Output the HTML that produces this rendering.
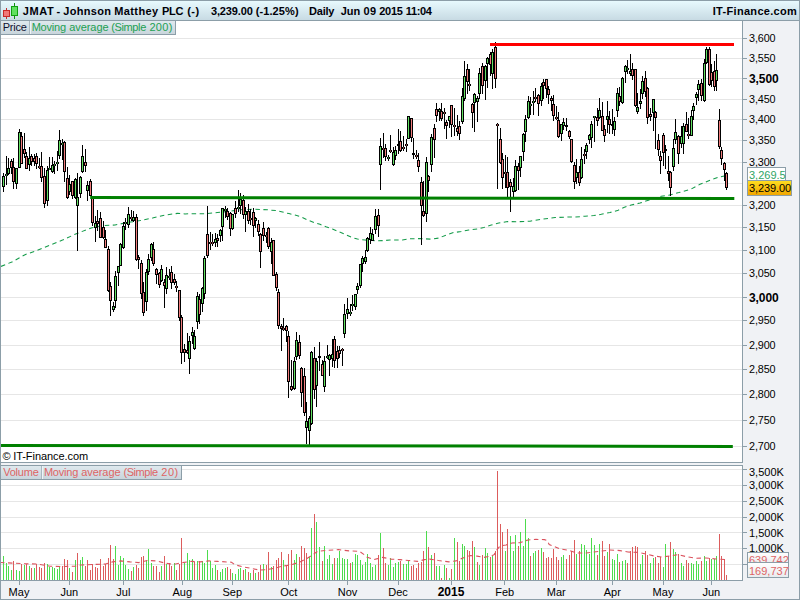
<!DOCTYPE html>
<html><head><meta charset="utf-8"><title>JMAT - Johnson Matthey PLC</title>
<style>html,body{margin:0;padding:0;background:#fff;overflow:hidden}svg{display:block}</style></head>
<body>
<svg width="800" height="600" viewBox="0 0 800 600" font-family='"Liberation Sans", Arial, sans-serif' font-size="11">
<defs>
<linearGradient id="hd" x1="0" y1="0" x2="0" y2="1"><stop offset="0" stop-color="#e9fbff"/><stop offset="1" stop-color="#c6d9e2"/></linearGradient>
<linearGradient id="tab" x1="0" y1="0" x2="0" y2="1"><stop offset="0" stop-color="#dfe9ee"/><stop offset="1" stop-color="#c9d5dc"/></linearGradient>
<linearGradient id="yl" x1="0" y1="0" x2="0" y2="1"><stop offset="0" stop-color="#ffdf20"/><stop offset="1" stop-color="#f0a400"/></linearGradient>
<linearGradient id="wb" x1="0" y1="0" x2="0" y2="1"><stop offset="0" stop-color="#ffffff"/><stop offset="1" stop-color="#e8ebee"/></linearGradient>
<clipPath id="cp"><rect x="1" y="21" width="741" height="441"/></clipPath>
<clipPath id="cv"><rect x="1" y="466" width="741" height="114"/></clipPath>
<clipPath id="cb1"><rect x="748" y="553" width="40" height="10"/></clipPath>
</defs>
<rect x="0" y="0" width="800" height="600" fill="#f0f2f5"/>
<rect x="0" y="0" width="800" height="21" fill="url(#hd)"/>
<rect x="0" y="0" width="800" height="1" fill="#8c9ea8"/>
<rect x="0" y="20" width="800" height="1" fill="#8c9ea8"/>
<rect x="1" y="21" width="741" height="441" fill="#fff"/>
<rect x="1" y="466" width="741" height="114" fill="#fff"/>
<g shape-rendering="crispEdges">
<rect x="1" y="446" width="741" height="1" fill="#e6e6e6"/>
<rect x="1" y="420" width="741" height="1" fill="#e6e6e6"/>
<rect x="1" y="394" width="741" height="1" fill="#e6e6e6"/>
<rect x="1" y="369" width="741" height="1" fill="#e6e6e6"/>
<rect x="1" y="345" width="741" height="1" fill="#e6e6e6"/>
<rect x="1" y="320" width="741" height="1" fill="#e6e6e6"/>
<rect x="1" y="297" width="741" height="1" fill="#e6e6e6"/>
<rect x="1" y="273" width="741" height="1" fill="#e6e6e6"/>
<rect x="1" y="250" width="741" height="1" fill="#e6e6e6"/>
<rect x="1" y="227" width="741" height="1" fill="#e6e6e6"/>
<rect x="1" y="205" width="741" height="1" fill="#e6e6e6"/>
<rect x="1" y="183" width="741" height="1" fill="#e6e6e6"/>
<rect x="1" y="162" width="741" height="1" fill="#e6e6e6"/>
<rect x="1" y="140" width="741" height="1" fill="#e6e6e6"/>
<rect x="1" y="119" width="741" height="1" fill="#e6e6e6"/>
<rect x="1" y="99" width="741" height="1" fill="#e6e6e6"/>
<rect x="1" y="78" width="741" height="1" fill="#e6e6e6"/>
<rect x="1" y="58" width="741" height="1" fill="#e6e6e6"/>
<rect x="1" y="38" width="741" height="1" fill="#e6e6e6"/>
<rect x="1" y="564" width="741" height="1" fill="#e6e6e6"/>
<rect x="1" y="548" width="741" height="1" fill="#e6e6e6"/>
<rect x="1" y="532" width="741" height="1" fill="#e6e6e6"/>
<rect x="1" y="517" width="741" height="1" fill="#e6e6e6"/>
<rect x="1" y="501" width="741" height="1" fill="#e6e6e6"/>
<rect x="1" y="485" width="741" height="1" fill="#e6e6e6"/>
<rect x="1" y="469" width="741" height="1" fill="#e6e6e6"/>
</g>
<polyline clip-path="url(#cp)" points="1.0,266.4 12.5,261.7 25.0,254.7 37.5,250.3 50.0,245.2 62.5,240.1 75.0,234.3 87.5,229.3 92.0,227.8 102.5,225.6 115.0,225.0 127.5,222.5 140.0,220.6 152.5,218.1 165.0,215.0 177.5,213.4 185.0,213.9 192.5,213.7 205.0,213.7 217.5,212.5 230.0,211.2 242.5,209.5 255.0,209.3 267.5,209.8 276.0,210.6 282.5,212.1 289.0,213.6 295.0,215.0 301.0,216.8 307.5,220.0 314.0,222.5 320.0,224.3 326.0,226.8 332.5,229.1 339.0,231.8 345.0,234.3 351.0,237.1 357.5,239.1 365.0,240.0 377.5,240.8 384.0,240.6 390.0,240.0 402.5,240.0 409.0,238.8 421.0,238.6 430.0,239.1 438.8,238.1 446.2,235.0 453.8,232.5 461.2,231.6 468.8,230.0 477.5,229.0 483.8,227.5 491.2,225.0 498.8,223.1 507.5,221.6 517.5,221.7 530.0,221.2 542.5,219.1 555.0,217.6 567.5,217.0 575.0,217.1 585.0,216.2 593.8,215.6 601.2,214.3 610.0,212.5 617.5,210.6 623.8,207.5 631.2,205.0 640.0,203.1 647.5,200.6 655.0,198.1 661.2,196.2 668.8,195.2 678.8,192.6 691.0,189.1 700.0,184.3 710.0,180.3 719.0,177.1 726.5,175.6" fill="none" stroke="#149b49" stroke-width="1.05" stroke-dasharray="4.5 3.5"/>
<g clip-path="url(#cp)" shape-rendering="crispEdges">
<rect x="3" y="173" width="1" height="19" fill="#000"/>
<rect x="2" y="176" width="3" height="11" fill="#000"/>
<rect x="3" y="177" width="1" height="9" fill="#62e062"/>
<rect x="6" y="156" width="1" height="29" fill="#000"/>
<rect x="5" y="174" width="3" height="2" fill="#000"/>
<rect x="6" y="174" width="1" height="2" fill="#62e062" fill-opacity="0.55"/>
<rect x="8" y="158" width="1" height="17" fill="#000"/>
<rect x="7" y="168" width="3" height="6" fill="#000"/>
<rect x="8" y="169" width="1" height="4" fill="#62e062"/>
<rect x="11" y="159" width="1" height="15" fill="#000"/>
<rect x="10" y="161" width="3" height="7" fill="#000"/>
<rect x="11" y="162" width="1" height="5" fill="#f07c7c"/>
<rect x="13" y="158" width="1" height="31" fill="#000"/>
<rect x="12" y="167" width="3" height="15" fill="#000"/>
<rect x="13" y="168" width="1" height="13" fill="#f07c7c"/>
<rect x="16" y="168" width="1" height="21" fill="#000"/>
<rect x="15" y="168" width="3" height="16" fill="#000"/>
<rect x="16" y="169" width="1" height="14" fill="#62e062"/>
<rect x="19" y="129" width="1" height="39" fill="#000"/>
<rect x="18" y="132" width="3" height="36" fill="#000"/>
<rect x="19" y="133" width="1" height="34" fill="#62e062"/>
<rect x="21" y="132" width="1" height="32" fill="#000"/>
<rect x="20" y="136" width="3" height="28" fill="#000"/>
<rect x="21" y="137" width="1" height="26" fill="#f07c7c"/>
<rect x="24" y="133" width="1" height="25" fill="#000"/>
<rect x="23" y="149" width="3" height="5" fill="#000"/>
<rect x="24" y="150" width="1" height="3" fill="#f07c7c"/>
<rect x="26" y="152" width="1" height="17" fill="#000"/>
<rect x="25" y="156" width="3" height="13" fill="#000"/>
<rect x="26" y="157" width="1" height="11" fill="#f07c7c"/>
<rect x="29" y="147" width="1" height="24" fill="#000"/>
<rect x="28" y="158" width="3" height="7" fill="#000"/>
<rect x="29" y="159" width="1" height="5" fill="#62e062"/>
<rect x="31" y="154" width="1" height="12" fill="#000"/>
<rect x="30" y="156" width="3" height="6" fill="#000"/>
<rect x="31" y="157" width="1" height="4" fill="#f07c7c"/>
<rect x="34" y="154" width="1" height="12" fill="#000"/>
<rect x="33" y="158" width="3" height="4" fill="#000"/>
<rect x="34" y="159" width="1" height="2" fill="#f07c7c"/>
<rect x="36" y="153" width="1" height="16" fill="#000"/>
<rect x="35" y="156" width="3" height="8" fill="#000"/>
<rect x="36" y="157" width="1" height="6" fill="#f07c7c"/>
<rect x="39" y="158" width="1" height="11" fill="#000"/>
<rect x="38" y="166" width="3" height="2" fill="#000"/>
<rect x="39" y="166" width="1" height="2" fill="#f07c7c" fill-opacity="0.55"/>
<rect x="41" y="152" width="1" height="30" fill="#000"/>
<rect x="40" y="166" width="3" height="12" fill="#000"/>
<rect x="41" y="167" width="1" height="10" fill="#f07c7c"/>
<rect x="44" y="168" width="1" height="40" fill="#000"/>
<rect x="43" y="176" width="3" height="28" fill="#000"/>
<rect x="44" y="177" width="1" height="26" fill="#f07c7c"/>
<rect x="47" y="166" width="1" height="40" fill="#000"/>
<rect x="46" y="170" width="3" height="31" fill="#000"/>
<rect x="47" y="171" width="1" height="29" fill="#62e062"/>
<rect x="49" y="157" width="1" height="13" fill="#000"/>
<rect x="48" y="168" width="3" height="2" fill="#000"/>
<rect x="49" y="168" width="1" height="2" fill="#62e062" fill-opacity="0.55"/>
<rect x="52" y="157" width="1" height="16" fill="#000"/>
<rect x="51" y="165" width="3" height="7" fill="#000"/>
<rect x="52" y="166" width="1" height="5" fill="#62e062"/>
<rect x="54" y="161" width="1" height="13" fill="#000"/>
<rect x="53" y="164" width="3" height="2" fill="#000"/>
<rect x="54" y="164" width="1" height="2" fill="#62e062" fill-opacity="0.55"/>
<rect x="57" y="151" width="1" height="20" fill="#000"/>
<rect x="56" y="162" width="3" height="2" fill="#000"/>
<rect x="57" y="162" width="1" height="2" fill="#62e062" fill-opacity="0.55"/>
<rect x="59" y="130" width="1" height="29" fill="#000"/>
<rect x="58" y="140" width="3" height="16" fill="#000"/>
<rect x="59" y="141" width="1" height="14" fill="#62e062"/>
<rect x="62" y="139" width="1" height="21" fill="#000"/>
<rect x="61" y="143" width="3" height="2" fill="#000"/>
<rect x="62" y="143" width="1" height="2" fill="#62e062" fill-opacity="0.55"/>
<rect x="64" y="141" width="1" height="41" fill="#000"/>
<rect x="63" y="142" width="3" height="30" fill="#000"/>
<rect x="64" y="143" width="1" height="28" fill="#f07c7c"/>
<rect x="67" y="167" width="1" height="32" fill="#000"/>
<rect x="66" y="178" width="3" height="20" fill="#000"/>
<rect x="67" y="179" width="1" height="18" fill="#f07c7c"/>
<rect x="69" y="175" width="1" height="20" fill="#000"/>
<rect x="68" y="184" width="3" height="8" fill="#000"/>
<rect x="69" y="185" width="1" height="6" fill="#62e062"/>
<rect x="72" y="181" width="1" height="18" fill="#000"/>
<rect x="71" y="181" width="3" height="15" fill="#000"/>
<rect x="72" y="182" width="1" height="13" fill="#f07c7c"/>
<rect x="75" y="178" width="1" height="21" fill="#000"/>
<rect x="74" y="179" width="3" height="19" fill="#000"/>
<rect x="75" y="180" width="1" height="17" fill="#62e062"/>
<rect x="77" y="173" width="1" height="78" fill="#000"/>
<rect x="76" y="197" width="3" height="9" fill="#000"/>
<rect x="77" y="198" width="1" height="7" fill="#62e062"/>
<rect x="80" y="176" width="1" height="22" fill="#000"/>
<rect x="79" y="177" width="3" height="17" fill="#000"/>
<rect x="80" y="178" width="1" height="15" fill="#62e062"/>
<rect x="82" y="145" width="1" height="28" fill="#000"/>
<rect x="81" y="156" width="3" height="16" fill="#000"/>
<rect x="82" y="157" width="1" height="14" fill="#62e062"/>
<rect x="85" y="149" width="1" height="23" fill="#000"/>
<rect x="84" y="162" width="3" height="4" fill="#000"/>
<rect x="85" y="163" width="1" height="2" fill="#f07c7c"/>
<rect x="87" y="181" width="1" height="20" fill="#000"/>
<rect x="86" y="185" width="3" height="6" fill="#000"/>
<rect x="87" y="186" width="1" height="4" fill="#62e062"/>
<rect x="90" y="179" width="1" height="17" fill="#000"/>
<rect x="89" y="181" width="3" height="15" fill="#000"/>
<rect x="90" y="182" width="1" height="13" fill="#f07c7c"/>
<rect x="92" y="196" width="1" height="30" fill="#000"/>
<rect x="91" y="198" width="3" height="25" fill="#000"/>
<rect x="92" y="199" width="1" height="23" fill="#f07c7c"/>
<rect x="95" y="216" width="1" height="26" fill="#000"/>
<rect x="94" y="223" width="3" height="5" fill="#000"/>
<rect x="95" y="224" width="1" height="3" fill="#62e062"/>
<rect x="97" y="210" width="1" height="21" fill="#000"/>
<rect x="96" y="221" width="3" height="3" fill="#000"/>
<rect x="97" y="222" width="1" height="1" fill="#f07c7c"/>
<rect x="100" y="212" width="1" height="26" fill="#000"/>
<rect x="99" y="218" width="3" height="20" fill="#000"/>
<rect x="100" y="219" width="1" height="18" fill="#f07c7c"/>
<rect x="103" y="221" width="1" height="18" fill="#000"/>
<rect x="102" y="227" width="3" height="11" fill="#000"/>
<rect x="103" y="228" width="1" height="9" fill="#f07c7c"/>
<rect x="105" y="230" width="1" height="18" fill="#000"/>
<rect x="104" y="239" width="3" height="9" fill="#000"/>
<rect x="105" y="240" width="1" height="7" fill="#f07c7c"/>
<rect x="108" y="246" width="1" height="46" fill="#000"/>
<rect x="107" y="249" width="3" height="42" fill="#000"/>
<rect x="108" y="250" width="1" height="40" fill="#f07c7c"/>
<rect x="110" y="282" width="1" height="34" fill="#000"/>
<rect x="109" y="286" width="3" height="15" fill="#000"/>
<rect x="110" y="287" width="1" height="13" fill="#f07c7c"/>
<rect x="113" y="302" width="1" height="10" fill="#000"/>
<rect x="112" y="306" width="3" height="4" fill="#000"/>
<rect x="113" y="307" width="1" height="2" fill="#62e062"/>
<rect x="115" y="271" width="1" height="37" fill="#000"/>
<rect x="114" y="276" width="3" height="25" fill="#000"/>
<rect x="115" y="277" width="1" height="23" fill="#62e062"/>
<rect x="118" y="266" width="1" height="20" fill="#000"/>
<rect x="117" y="266" width="3" height="7" fill="#000"/>
<rect x="118" y="267" width="1" height="5" fill="#62e062"/>
<rect x="120" y="243" width="1" height="23" fill="#000"/>
<rect x="119" y="244" width="3" height="22" fill="#000"/>
<rect x="120" y="245" width="1" height="20" fill="#62e062"/>
<rect x="123" y="222" width="1" height="27" fill="#000"/>
<rect x="122" y="226" width="3" height="22" fill="#000"/>
<rect x="123" y="227" width="1" height="20" fill="#62e062"/>
<rect x="125" y="218" width="1" height="12" fill="#000"/>
<rect x="124" y="222" width="3" height="2" fill="#000"/>
<rect x="125" y="222" width="1" height="2" fill="#62e062" fill-opacity="0.55"/>
<rect x="128" y="207" width="1" height="21" fill="#000"/>
<rect x="127" y="214" width="3" height="11" fill="#000"/>
<rect x="128" y="215" width="1" height="9" fill="#62e062"/>
<rect x="131" y="210" width="1" height="11" fill="#000"/>
<rect x="130" y="217" width="3" height="2" fill="#000"/>
<rect x="131" y="217" width="1" height="2" fill="#f07c7c" fill-opacity="0.55"/>
<rect x="133" y="211" width="1" height="11" fill="#000"/>
<rect x="132" y="217" width="3" height="4" fill="#000"/>
<rect x="133" y="218" width="1" height="2" fill="#62e062"/>
<rect x="136" y="214" width="1" height="47" fill="#000"/>
<rect x="135" y="217" width="3" height="43" fill="#000"/>
<rect x="136" y="218" width="1" height="41" fill="#f07c7c"/>
<rect x="138" y="255" width="1" height="14" fill="#000"/>
<rect x="137" y="257" width="3" height="3" fill="#000"/>
<rect x="138" y="258" width="1" height="1" fill="#f07c7c"/>
<rect x="141" y="260" width="1" height="39" fill="#000"/>
<rect x="140" y="263" width="3" height="31" fill="#000"/>
<rect x="141" y="264" width="1" height="29" fill="#f07c7c"/>
<rect x="143" y="282" width="1" height="34" fill="#000"/>
<rect x="142" y="292" width="3" height="21" fill="#000"/>
<rect x="143" y="293" width="1" height="19" fill="#f07c7c"/>
<rect x="146" y="269" width="1" height="42" fill="#000"/>
<rect x="145" y="272" width="3" height="30" fill="#000"/>
<rect x="146" y="273" width="1" height="28" fill="#62e062"/>
<rect x="148" y="254" width="1" height="21" fill="#000"/>
<rect x="147" y="259" width="3" height="13" fill="#000"/>
<rect x="148" y="260" width="1" height="11" fill="#62e062"/>
<rect x="151" y="243" width="1" height="18" fill="#000"/>
<rect x="150" y="244" width="3" height="14" fill="#000"/>
<rect x="151" y="245" width="1" height="12" fill="#62e062"/>
<rect x="153" y="242" width="1" height="24" fill="#000"/>
<rect x="152" y="249" width="3" height="15" fill="#000"/>
<rect x="153" y="250" width="1" height="13" fill="#f07c7c"/>
<rect x="156" y="268" width="1" height="16" fill="#000"/>
<rect x="155" y="269" width="3" height="6" fill="#000"/>
<rect x="156" y="270" width="1" height="4" fill="#f07c7c"/>
<rect x="159" y="272" width="1" height="16" fill="#000"/>
<rect x="158" y="273" width="3" height="12" fill="#000"/>
<rect x="159" y="274" width="1" height="10" fill="#f07c7c"/>
<rect x="161" y="265" width="1" height="17" fill="#000"/>
<rect x="160" y="269" width="3" height="12" fill="#000"/>
<rect x="161" y="270" width="1" height="10" fill="#62e062"/>
<rect x="164" y="279" width="1" height="29" fill="#000"/>
<rect x="163" y="282" width="3" height="4" fill="#000"/>
<rect x="164" y="283" width="1" height="2" fill="#f07c7c"/>
<rect x="166" y="267" width="1" height="27" fill="#000"/>
<rect x="165" y="275" width="3" height="14" fill="#000"/>
<rect x="166" y="276" width="1" height="12" fill="#62e062"/>
<rect x="169" y="269" width="1" height="11" fill="#000"/>
<rect x="168" y="276" width="3" height="2" fill="#000"/>
<rect x="169" y="276" width="1" height="2" fill="#62e062" fill-opacity="0.55"/>
<rect x="171" y="266" width="1" height="23" fill="#000"/>
<rect x="170" y="272" width="3" height="11" fill="#000"/>
<rect x="171" y="273" width="1" height="9" fill="#f07c7c"/>
<rect x="174" y="274" width="1" height="11" fill="#000"/>
<rect x="173" y="279" width="3" height="4" fill="#000"/>
<rect x="174" y="280" width="1" height="2" fill="#f07c7c"/>
<rect x="176" y="281" width="1" height="11" fill="#000"/>
<rect x="175" y="286" width="3" height="2" fill="#000"/>
<rect x="176" y="286" width="1" height="2" fill="#f07c7c" fill-opacity="0.55"/>
<rect x="179" y="290" width="1" height="31" fill="#000"/>
<rect x="178" y="290" width="3" height="28" fill="#000"/>
<rect x="179" y="291" width="1" height="26" fill="#f07c7c"/>
<rect x="181" y="315" width="1" height="49" fill="#000"/>
<rect x="180" y="317" width="3" height="36" fill="#000"/>
<rect x="181" y="318" width="1" height="34" fill="#f07c7c"/>
<rect x="184" y="344" width="1" height="18" fill="#000"/>
<rect x="183" y="349" width="3" height="4" fill="#000"/>
<rect x="184" y="350" width="1" height="2" fill="#f07c7c"/>
<rect x="187" y="333" width="1" height="21" fill="#000"/>
<rect x="186" y="350" width="3" height="3" fill="#000"/>
<rect x="187" y="351" width="1" height="1" fill="#f07c7c"/>
<rect x="189" y="336" width="1" height="38" fill="#000"/>
<rect x="188" y="341" width="3" height="18" fill="#000"/>
<rect x="189" y="342" width="1" height="16" fill="#62e062"/>
<rect x="192" y="327" width="1" height="17" fill="#000"/>
<rect x="191" y="332" width="3" height="4" fill="#000"/>
<rect x="192" y="333" width="1" height="2" fill="#62e062"/>
<rect x="194" y="330" width="1" height="20" fill="#000"/>
<rect x="193" y="336" width="3" height="13" fill="#000"/>
<rect x="194" y="337" width="1" height="11" fill="#62e062"/>
<rect x="197" y="292" width="1" height="37" fill="#000"/>
<rect x="196" y="296" width="3" height="26" fill="#000"/>
<rect x="197" y="297" width="1" height="24" fill="#62e062"/>
<rect x="199" y="294" width="1" height="30" fill="#000"/>
<rect x="198" y="299" width="3" height="16" fill="#000"/>
<rect x="199" y="300" width="1" height="14" fill="#f07c7c"/>
<rect x="202" y="287" width="1" height="25" fill="#000"/>
<rect x="201" y="288" width="3" height="16" fill="#000"/>
<rect x="202" y="289" width="1" height="14" fill="#62e062"/>
<rect x="204" y="256" width="1" height="43" fill="#000"/>
<rect x="203" y="258" width="3" height="36" fill="#000"/>
<rect x="204" y="259" width="1" height="34" fill="#62e062"/>
<rect x="207" y="206" width="1" height="52" fill="#000"/>
<rect x="206" y="234" width="3" height="22" fill="#000"/>
<rect x="207" y="235" width="1" height="20" fill="#f07c7c"/>
<rect x="210" y="232" width="1" height="18" fill="#000"/>
<rect x="209" y="242" width="3" height="2" fill="#000"/>
<rect x="210" y="242" width="1" height="2" fill="#f07c7c" fill-opacity="0.55"/>
<rect x="212" y="234" width="1" height="12" fill="#000"/>
<rect x="211" y="242" width="3" height="2" fill="#000"/>
<rect x="212" y="242" width="1" height="2" fill="#f07c7c" fill-opacity="0.55"/>
<rect x="215" y="233" width="1" height="14" fill="#000"/>
<rect x="214" y="239" width="3" height="4" fill="#000"/>
<rect x="215" y="240" width="1" height="2" fill="#62e062"/>
<rect x="217" y="234" width="1" height="13" fill="#000"/>
<rect x="216" y="238" width="3" height="3" fill="#000"/>
<rect x="217" y="239" width="1" height="1" fill="#f07c7c"/>
<rect x="220" y="229" width="1" height="13" fill="#000"/>
<rect x="219" y="230" width="3" height="6" fill="#000"/>
<rect x="220" y="231" width="1" height="4" fill="#62e062"/>
<rect x="222" y="208" width="1" height="33" fill="#000"/>
<rect x="221" y="208" width="3" height="19" fill="#000"/>
<rect x="222" y="209" width="1" height="17" fill="#62e062"/>
<rect x="225" y="206" width="1" height="12" fill="#000"/>
<rect x="224" y="209" width="3" height="2" fill="#000"/>
<rect x="225" y="209" width="1" height="2" fill="#62e062" fill-opacity="0.55"/>
<rect x="227" y="208" width="1" height="12" fill="#000"/>
<rect x="226" y="211" width="3" height="6" fill="#000"/>
<rect x="227" y="212" width="1" height="4" fill="#f07c7c"/>
<rect x="230" y="212" width="1" height="24" fill="#000"/>
<rect x="229" y="213" width="3" height="16" fill="#000"/>
<rect x="230" y="214" width="1" height="14" fill="#f07c7c"/>
<rect x="232" y="214" width="1" height="16" fill="#000"/>
<rect x="231" y="214" width="3" height="15" fill="#000"/>
<rect x="232" y="215" width="1" height="13" fill="#62e062"/>
<rect x="235" y="201" width="1" height="17" fill="#000"/>
<rect x="234" y="208" width="3" height="6" fill="#000"/>
<rect x="235" y="209" width="1" height="4" fill="#f07c7c"/>
<rect x="238" y="190" width="1" height="22" fill="#000"/>
<rect x="237" y="207" width="3" height="2" fill="#000"/>
<rect x="238" y="207" width="1" height="2" fill="#62e062" fill-opacity="0.55"/>
<rect x="240" y="193" width="1" height="21" fill="#000"/>
<rect x="239" y="199" width="3" height="7" fill="#000"/>
<rect x="240" y="200" width="1" height="5" fill="#62e062"/>
<rect x="243" y="195" width="1" height="24" fill="#000"/>
<rect x="242" y="200" width="3" height="15" fill="#000"/>
<rect x="243" y="201" width="1" height="13" fill="#f07c7c"/>
<rect x="245" y="207" width="1" height="25" fill="#000"/>
<rect x="244" y="211" width="3" height="4" fill="#000"/>
<rect x="245" y="212" width="1" height="2" fill="#62e062"/>
<rect x="248" y="204" width="1" height="20" fill="#000"/>
<rect x="247" y="211" width="3" height="10" fill="#000"/>
<rect x="248" y="212" width="1" height="8" fill="#f07c7c"/>
<rect x="250" y="209" width="1" height="16" fill="#000"/>
<rect x="249" y="218" width="3" height="2" fill="#000"/>
<rect x="250" y="218" width="1" height="2" fill="#f07c7c" fill-opacity="0.55"/>
<rect x="253" y="208" width="1" height="29" fill="#000"/>
<rect x="252" y="212" width="3" height="14" fill="#000"/>
<rect x="253" y="213" width="1" height="12" fill="#f07c7c"/>
<rect x="255" y="217" width="1" height="11" fill="#000"/>
<rect x="254" y="218" width="3" height="3" fill="#000"/>
<rect x="255" y="219" width="1" height="1" fill="#62e062"/>
<rect x="258" y="220" width="1" height="16" fill="#000"/>
<rect x="257" y="224" width="3" height="8" fill="#000"/>
<rect x="258" y="225" width="1" height="6" fill="#f07c7c"/>
<rect x="260" y="233" width="1" height="35" fill="#000"/>
<rect x="259" y="234" width="3" height="18" fill="#000"/>
<rect x="260" y="235" width="1" height="16" fill="#f07c7c"/>
<rect x="263" y="222" width="1" height="19" fill="#000"/>
<rect x="262" y="228" width="3" height="8" fill="#000"/>
<rect x="263" y="229" width="1" height="6" fill="#f07c7c"/>
<rect x="266" y="232" width="1" height="11" fill="#000"/>
<rect x="265" y="235" width="3" height="2" fill="#000"/>
<rect x="266" y="235" width="1" height="2" fill="#f07c7c" fill-opacity="0.55"/>
<rect x="268" y="227" width="1" height="22" fill="#000"/>
<rect x="267" y="228" width="3" height="19" fill="#000"/>
<rect x="268" y="229" width="1" height="17" fill="#f07c7c"/>
<rect x="271" y="238" width="1" height="26" fill="#000"/>
<rect x="270" y="242" width="3" height="10" fill="#000"/>
<rect x="271" y="243" width="1" height="8" fill="#62e062"/>
<rect x="273" y="240" width="1" height="36" fill="#000"/>
<rect x="272" y="240" width="3" height="36" fill="#000"/>
<rect x="273" y="241" width="1" height="34" fill="#f07c7c"/>
<rect x="276" y="272" width="1" height="19" fill="#000"/>
<rect x="275" y="274" width="3" height="14" fill="#000"/>
<rect x="276" y="275" width="1" height="12" fill="#f07c7c"/>
<rect x="278" y="289" width="1" height="40" fill="#000"/>
<rect x="277" y="292" width="3" height="34" fill="#000"/>
<rect x="278" y="293" width="1" height="32" fill="#f07c7c"/>
<rect x="281" y="324" width="1" height="27" fill="#000"/>
<rect x="280" y="326" width="3" height="3" fill="#000"/>
<rect x="281" y="327" width="1" height="1" fill="#f07c7c"/>
<rect x="283" y="318" width="1" height="13" fill="#000"/>
<rect x="282" y="328" width="3" height="2" fill="#000"/>
<rect x="283" y="328" width="1" height="2" fill="#f07c7c" fill-opacity="0.55"/>
<rect x="286" y="325" width="1" height="17" fill="#000"/>
<rect x="285" y="326" width="3" height="5" fill="#000"/>
<rect x="286" y="327" width="1" height="3" fill="#f07c7c"/>
<rect x="288" y="331" width="1" height="67" fill="#000"/>
<rect x="287" y="336" width="3" height="46" fill="#000"/>
<rect x="288" y="337" width="1" height="44" fill="#f07c7c"/>
<rect x="291" y="360" width="1" height="31" fill="#000"/>
<rect x="290" y="386" width="3" height="4" fill="#000"/>
<rect x="291" y="387" width="1" height="2" fill="#f07c7c"/>
<rect x="294" y="357" width="1" height="33" fill="#000"/>
<rect x="293" y="361" width="3" height="28" fill="#000"/>
<rect x="294" y="362" width="1" height="26" fill="#62e062"/>
<rect x="296" y="332" width="1" height="28" fill="#000"/>
<rect x="295" y="340" width="3" height="17" fill="#000"/>
<rect x="296" y="341" width="1" height="15" fill="#62e062"/>
<rect x="299" y="335" width="1" height="24" fill="#000"/>
<rect x="298" y="342" width="3" height="14" fill="#000"/>
<rect x="299" y="343" width="1" height="12" fill="#f07c7c"/>
<rect x="301" y="367" width="1" height="40" fill="#000"/>
<rect x="300" y="368" width="3" height="25" fill="#000"/>
<rect x="301" y="369" width="1" height="23" fill="#f07c7c"/>
<rect x="304" y="368" width="1" height="48" fill="#000"/>
<rect x="303" y="376" width="3" height="37" fill="#000"/>
<rect x="304" y="377" width="1" height="35" fill="#f07c7c"/>
<rect x="306" y="402" width="1" height="42" fill="#000"/>
<rect x="305" y="421" width="3" height="7" fill="#000"/>
<rect x="306" y="422" width="1" height="5" fill="#62e062"/>
<rect x="309" y="416" width="1" height="29" fill="#000"/>
<rect x="308" y="418" width="3" height="13" fill="#000"/>
<rect x="309" y="419" width="1" height="11" fill="#62e062"/>
<rect x="311" y="351" width="1" height="74" fill="#000"/>
<rect x="310" y="352" width="3" height="72" fill="#000"/>
<rect x="311" y="353" width="1" height="70" fill="#62e062"/>
<rect x="314" y="347" width="1" height="52" fill="#000"/>
<rect x="313" y="358" width="3" height="32" fill="#000"/>
<rect x="314" y="359" width="1" height="30" fill="#f07c7c"/>
<rect x="316" y="358" width="1" height="49" fill="#000"/>
<rect x="315" y="361" width="3" height="25" fill="#000"/>
<rect x="316" y="362" width="1" height="23" fill="#62e062"/>
<rect x="319" y="342" width="1" height="29" fill="#000"/>
<rect x="318" y="356" width="3" height="2" fill="#000"/>
<rect x="322" y="360" width="1" height="16" fill="#000"/>
<rect x="321" y="364" width="3" height="12" fill="#000"/>
<rect x="322" y="365" width="1" height="10" fill="#f07c7c"/>
<rect x="324" y="356" width="1" height="36" fill="#000"/>
<rect x="323" y="361" width="3" height="26" fill="#000"/>
<rect x="324" y="362" width="1" height="24" fill="#62e062"/>
<rect x="327" y="345" width="1" height="14" fill="#000"/>
<rect x="326" y="356" width="3" height="2" fill="#000"/>
<rect x="327" y="356" width="1" height="2" fill="#62e062" fill-opacity="0.55"/>
<rect x="329" y="354" width="1" height="22" fill="#000"/>
<rect x="328" y="355" width="3" height="5" fill="#000"/>
<rect x="329" y="356" width="1" height="3" fill="#62e062"/>
<rect x="332" y="339" width="1" height="28" fill="#000"/>
<rect x="331" y="354" width="3" height="5" fill="#000"/>
<rect x="332" y="355" width="1" height="3" fill="#62e062"/>
<rect x="334" y="336" width="1" height="32" fill="#000"/>
<rect x="333" y="339" width="3" height="22" fill="#000"/>
<rect x="334" y="340" width="1" height="20" fill="#f07c7c"/>
<rect x="337" y="346" width="1" height="22" fill="#000"/>
<rect x="336" y="351" width="3" height="8" fill="#000"/>
<rect x="337" y="352" width="1" height="6" fill="#f07c7c"/>
<rect x="339" y="346" width="1" height="12" fill="#000"/>
<rect x="338" y="350" width="3" height="4" fill="#000"/>
<rect x="339" y="351" width="1" height="2" fill="#f07c7c"/>
<rect x="342" y="348" width="1" height="18" fill="#000"/>
<rect x="341" y="349" width="3" height="2" fill="#000"/>
<rect x="342" y="349" width="1" height="2" fill="#f07c7c" fill-opacity="0.55"/>
<rect x="344" y="304" width="1" height="34" fill="#000"/>
<rect x="343" y="314" width="3" height="20" fill="#000"/>
<rect x="344" y="315" width="1" height="18" fill="#62e062"/>
<rect x="347" y="298" width="1" height="21" fill="#000"/>
<rect x="346" y="309" width="3" height="5" fill="#000"/>
<rect x="347" y="310" width="1" height="3" fill="#62e062"/>
<rect x="350" y="304" width="1" height="12" fill="#000"/>
<rect x="349" y="312" width="3" height="2" fill="#000"/>
<rect x="350" y="312" width="1" height="2" fill="#62e062" fill-opacity="0.55"/>
<rect x="352" y="295" width="1" height="16" fill="#000"/>
<rect x="351" y="304" width="3" height="2" fill="#000"/>
<rect x="352" y="304" width="1" height="2" fill="#62e062" fill-opacity="0.55"/>
<rect x="355" y="294" width="1" height="16" fill="#000"/>
<rect x="354" y="294" width="3" height="13" fill="#000"/>
<rect x="355" y="295" width="1" height="11" fill="#62e062"/>
<rect x="357" y="283" width="1" height="11" fill="#000"/>
<rect x="356" y="286" width="3" height="4" fill="#000"/>
<rect x="357" y="287" width="1" height="2" fill="#62e062"/>
<rect x="360" y="264" width="1" height="24" fill="#000"/>
<rect x="359" y="264" width="3" height="22" fill="#000"/>
<rect x="360" y="265" width="1" height="20" fill="#62e062"/>
<rect x="362" y="256" width="1" height="16" fill="#000"/>
<rect x="361" y="258" width="3" height="6" fill="#000"/>
<rect x="362" y="259" width="1" height="4" fill="#62e062"/>
<rect x="365" y="250" width="1" height="14" fill="#000"/>
<rect x="364" y="257" width="3" height="5" fill="#000"/>
<rect x="365" y="258" width="1" height="3" fill="#62e062"/>
<rect x="367" y="237" width="1" height="15" fill="#000"/>
<rect x="366" y="238" width="3" height="13" fill="#000"/>
<rect x="367" y="239" width="1" height="11" fill="#62e062"/>
<rect x="370" y="227" width="1" height="17" fill="#000"/>
<rect x="369" y="233" width="3" height="7" fill="#000"/>
<rect x="370" y="234" width="1" height="5" fill="#62e062"/>
<rect x="372" y="229" width="1" height="12" fill="#000"/>
<rect x="371" y="234" width="3" height="7" fill="#000"/>
<rect x="372" y="235" width="1" height="5" fill="#62e062"/>
<rect x="375" y="209" width="1" height="25" fill="#000"/>
<rect x="374" y="216" width="3" height="14" fill="#000"/>
<rect x="375" y="217" width="1" height="12" fill="#62e062"/>
<rect x="378" y="209" width="1" height="28" fill="#000"/>
<rect x="377" y="215" width="3" height="11" fill="#000"/>
<rect x="378" y="216" width="1" height="9" fill="#f07c7c"/>
<rect x="380" y="138" width="1" height="52" fill="#000"/>
<rect x="379" y="146" width="3" height="19" fill="#000"/>
<rect x="380" y="147" width="1" height="17" fill="#62e062"/>
<rect x="383" y="133" width="1" height="25" fill="#000"/>
<rect x="382" y="148" width="3" height="2" fill="#000"/>
<rect x="383" y="148" width="1" height="2" fill="#f07c7c" fill-opacity="0.55"/>
<rect x="385" y="144" width="1" height="17" fill="#000"/>
<rect x="384" y="148" width="3" height="9" fill="#000"/>
<rect x="385" y="149" width="1" height="7" fill="#f07c7c"/>
<rect x="388" y="155" width="1" height="6" fill="#000"/>
<rect x="387" y="157" width="3" height="2" fill="#000"/>
<rect x="388" y="157" width="1" height="2" fill="#62e062" fill-opacity="0.55"/>
<rect x="390" y="135" width="1" height="18" fill="#000"/>
<rect x="389" y="150" width="3" height="2" fill="#000"/>
<rect x="390" y="150" width="1" height="2" fill="#f07c7c" fill-opacity="0.55"/>
<rect x="393" y="147" width="1" height="19" fill="#000"/>
<rect x="392" y="152" width="3" height="13" fill="#000"/>
<rect x="393" y="153" width="1" height="11" fill="#62e062"/>
<rect x="395" y="146" width="1" height="14" fill="#000"/>
<rect x="394" y="150" width="3" height="6" fill="#000"/>
<rect x="395" y="151" width="1" height="4" fill="#62e062"/>
<rect x="398" y="129" width="1" height="25" fill="#000"/>
<rect x="397" y="144" width="3" height="2" fill="#000"/>
<rect x="400" y="131" width="1" height="21" fill="#000"/>
<rect x="399" y="141" width="3" height="10" fill="#000"/>
<rect x="400" y="142" width="1" height="8" fill="#f07c7c"/>
<rect x="403" y="136" width="1" height="15" fill="#000"/>
<rect x="402" y="147" width="3" height="2" fill="#000"/>
<rect x="403" y="147" width="1" height="2" fill="#f07c7c" fill-opacity="0.55"/>
<rect x="406" y="139" width="1" height="13" fill="#000"/>
<rect x="405" y="144" width="3" height="2" fill="#000"/>
<rect x="406" y="144" width="1" height="2" fill="#f07c7c" fill-opacity="0.55"/>
<rect x="408" y="116" width="1" height="23" fill="#000"/>
<rect x="407" y="116" width="3" height="23" fill="#000"/>
<rect x="408" y="117" width="1" height="21" fill="#62e062"/>
<rect x="411" y="118" width="1" height="24" fill="#000"/>
<rect x="410" y="118" width="3" height="20" fill="#000"/>
<rect x="411" y="119" width="1" height="18" fill="#f07c7c"/>
<rect x="413" y="138" width="1" height="21" fill="#000"/>
<rect x="412" y="153" width="3" height="2" fill="#000"/>
<rect x="416" y="150" width="1" height="9" fill="#000"/>
<rect x="415" y="155" width="3" height="2" fill="#000"/>
<rect x="416" y="155" width="1" height="2" fill="#f07c7c" fill-opacity="0.55"/>
<rect x="418" y="153" width="1" height="19" fill="#000"/>
<rect x="417" y="160" width="3" height="7" fill="#000"/>
<rect x="418" y="161" width="1" height="5" fill="#f07c7c"/>
<rect x="421" y="177" width="1" height="68" fill="#000"/>
<rect x="420" y="182" width="3" height="24" fill="#000"/>
<rect x="421" y="183" width="1" height="22" fill="#f07c7c"/>
<rect x="423" y="181" width="1" height="36" fill="#000"/>
<rect x="422" y="211" width="3" height="5" fill="#000"/>
<rect x="423" y="212" width="1" height="3" fill="#f07c7c"/>
<rect x="426" y="157" width="1" height="65" fill="#000"/>
<rect x="425" y="162" width="3" height="52" fill="#000"/>
<rect x="426" y="163" width="1" height="50" fill="#62e062"/>
<rect x="428" y="175" width="1" height="17" fill="#000"/>
<rect x="427" y="176" width="3" height="5" fill="#000"/>
<rect x="428" y="177" width="1" height="3" fill="#f07c7c"/>
<rect x="431" y="134" width="1" height="38" fill="#000"/>
<rect x="430" y="137" width="3" height="28" fill="#000"/>
<rect x="431" y="138" width="1" height="26" fill="#62e062"/>
<rect x="434" y="124" width="1" height="34" fill="#000"/>
<rect x="433" y="128" width="3" height="12" fill="#000"/>
<rect x="434" y="129" width="1" height="10" fill="#f07c7c"/>
<rect x="436" y="103" width="1" height="19" fill="#000"/>
<rect x="435" y="109" width="3" height="7" fill="#000"/>
<rect x="436" y="110" width="1" height="5" fill="#f07c7c"/>
<rect x="439" y="108" width="1" height="13" fill="#000"/>
<rect x="438" y="109" width="3" height="3" fill="#000"/>
<rect x="439" y="110" width="1" height="1" fill="#62e062"/>
<rect x="441" y="103" width="1" height="18" fill="#000"/>
<rect x="440" y="111" width="3" height="8" fill="#000"/>
<rect x="441" y="112" width="1" height="6" fill="#f07c7c"/>
<rect x="444" y="108" width="1" height="21" fill="#000"/>
<rect x="443" y="112" width="3" height="2" fill="#000"/>
<rect x="444" y="112" width="1" height="2" fill="#f07c7c" fill-opacity="0.55"/>
<rect x="446" y="120" width="1" height="19" fill="#000"/>
<rect x="445" y="122" width="3" height="4" fill="#000"/>
<rect x="446" y="123" width="1" height="2" fill="#f07c7c"/>
<rect x="449" y="116" width="1" height="12" fill="#000"/>
<rect x="448" y="116" width="3" height="5" fill="#000"/>
<rect x="449" y="117" width="1" height="3" fill="#62e062"/>
<rect x="451" y="105" width="1" height="32" fill="#000"/>
<rect x="450" y="105" width="3" height="20" fill="#000"/>
<rect x="451" y="106" width="1" height="18" fill="#f07c7c"/>
<rect x="454" y="108" width="1" height="28" fill="#000"/>
<rect x="453" y="125" width="3" height="2" fill="#000"/>
<rect x="454" y="125" width="1" height="2" fill="#f07c7c" fill-opacity="0.55"/>
<rect x="457" y="115" width="1" height="21" fill="#000"/>
<rect x="456" y="128" width="3" height="4" fill="#000"/>
<rect x="457" y="129" width="1" height="2" fill="#f07c7c"/>
<rect x="459" y="121" width="1" height="19" fill="#000"/>
<rect x="458" y="126" width="3" height="8" fill="#000"/>
<rect x="459" y="127" width="1" height="6" fill="#f07c7c"/>
<rect x="462" y="88" width="1" height="36" fill="#000"/>
<rect x="461" y="96" width="3" height="26" fill="#000"/>
<rect x="462" y="97" width="1" height="24" fill="#62e062"/>
<rect x="464" y="61" width="1" height="40" fill="#000"/>
<rect x="463" y="76" width="3" height="23" fill="#000"/>
<rect x="464" y="77" width="1" height="21" fill="#62e062"/>
<rect x="467" y="64" width="1" height="30" fill="#000"/>
<rect x="466" y="69" width="3" height="13" fill="#000"/>
<rect x="467" y="70" width="1" height="11" fill="#f07c7c"/>
<rect x="469" y="69" width="1" height="22" fill="#000"/>
<rect x="468" y="84" width="3" height="2" fill="#000"/>
<rect x="469" y="84" width="1" height="2" fill="#f07c7c" fill-opacity="0.55"/>
<rect x="472" y="103" width="1" height="25" fill="#000"/>
<rect x="471" y="104" width="3" height="9" fill="#000"/>
<rect x="472" y="105" width="1" height="7" fill="#f07c7c"/>
<rect x="474" y="93" width="1" height="39" fill="#000"/>
<rect x="473" y="94" width="3" height="9" fill="#000"/>
<rect x="474" y="95" width="1" height="7" fill="#62e062"/>
<rect x="477" y="96" width="1" height="26" fill="#000"/>
<rect x="476" y="98" width="3" height="4" fill="#000"/>
<rect x="477" y="99" width="1" height="2" fill="#62e062"/>
<rect x="479" y="68" width="1" height="31" fill="#000"/>
<rect x="478" y="73" width="3" height="21" fill="#000"/>
<rect x="479" y="74" width="1" height="19" fill="#62e062"/>
<rect x="482" y="63" width="1" height="31" fill="#000"/>
<rect x="481" y="66" width="3" height="20" fill="#000"/>
<rect x="482" y="67" width="1" height="18" fill="#f07c7c"/>
<rect x="485" y="65" width="1" height="35" fill="#000"/>
<rect x="484" y="66" width="3" height="15" fill="#000"/>
<rect x="485" y="67" width="1" height="13" fill="#62e062"/>
<rect x="487" y="57" width="1" height="31" fill="#000"/>
<rect x="486" y="58" width="3" height="6" fill="#000"/>
<rect x="487" y="59" width="1" height="4" fill="#62e062"/>
<rect x="490" y="52" width="1" height="24" fill="#000"/>
<rect x="489" y="54" width="3" height="11" fill="#000"/>
<rect x="490" y="55" width="1" height="9" fill="#f07c7c"/>
<rect x="492" y="49" width="1" height="40" fill="#000"/>
<rect x="491" y="52" width="3" height="22" fill="#000"/>
<rect x="492" y="53" width="1" height="20" fill="#62e062"/>
<rect x="495" y="42" width="1" height="46" fill="#000"/>
<rect x="494" y="47" width="3" height="32" fill="#000"/>
<rect x="495" y="48" width="1" height="30" fill="#f07c7c"/>
<rect x="497" y="123" width="1" height="66" fill="#000"/>
<rect x="496" y="124" width="3" height="2" fill="#000"/>
<rect x="497" y="124" width="1" height="2" fill="#f07c7c" fill-opacity="0.55"/>
<rect x="500" y="128" width="1" height="36" fill="#000"/>
<rect x="499" y="139" width="3" height="24" fill="#000"/>
<rect x="500" y="140" width="1" height="22" fill="#f07c7c"/>
<rect x="502" y="153" width="1" height="36" fill="#000"/>
<rect x="501" y="159" width="3" height="19" fill="#000"/>
<rect x="502" y="160" width="1" height="17" fill="#f07c7c"/>
<rect x="505" y="155" width="1" height="33" fill="#000"/>
<rect x="504" y="172" width="3" height="2" fill="#000"/>
<rect x="505" y="172" width="1" height="2" fill="#f07c7c" fill-opacity="0.55"/>
<rect x="507" y="157" width="1" height="40" fill="#000"/>
<rect x="506" y="172" width="3" height="16" fill="#000"/>
<rect x="507" y="173" width="1" height="14" fill="#f07c7c"/>
<rect x="510" y="179" width="1" height="33" fill="#000"/>
<rect x="509" y="182" width="3" height="5" fill="#000"/>
<rect x="510" y="183" width="1" height="3" fill="#f07c7c"/>
<rect x="513" y="178" width="1" height="21" fill="#000"/>
<rect x="512" y="186" width="3" height="6" fill="#000"/>
<rect x="513" y="187" width="1" height="4" fill="#62e062"/>
<rect x="515" y="160" width="1" height="32" fill="#000"/>
<rect x="514" y="166" width="3" height="25" fill="#000"/>
<rect x="515" y="167" width="1" height="23" fill="#62e062"/>
<rect x="518" y="163" width="1" height="27" fill="#000"/>
<rect x="517" y="166" width="3" height="5" fill="#000"/>
<rect x="518" y="167" width="1" height="3" fill="#f07c7c"/>
<rect x="520" y="156" width="1" height="21" fill="#000"/>
<rect x="519" y="156" width="3" height="12" fill="#000"/>
<rect x="520" y="157" width="1" height="10" fill="#62e062"/>
<rect x="523" y="133" width="1" height="28" fill="#000"/>
<rect x="522" y="134" width="3" height="18" fill="#000"/>
<rect x="523" y="135" width="1" height="16" fill="#62e062"/>
<rect x="525" y="115" width="1" height="27" fill="#000"/>
<rect x="524" y="119" width="3" height="13" fill="#000"/>
<rect x="525" y="120" width="1" height="11" fill="#62e062"/>
<rect x="528" y="96" width="1" height="23" fill="#000"/>
<rect x="527" y="101" width="3" height="17" fill="#000"/>
<rect x="528" y="102" width="1" height="15" fill="#62e062"/>
<rect x="530" y="97" width="1" height="18" fill="#000"/>
<rect x="529" y="104" width="3" height="2" fill="#000"/>
<rect x="530" y="104" width="1" height="2" fill="#62e062" fill-opacity="0.55"/>
<rect x="533" y="91" width="1" height="24" fill="#000"/>
<rect x="532" y="101" width="3" height="2" fill="#000"/>
<rect x="533" y="101" width="1" height="2" fill="#62e062" fill-opacity="0.55"/>
<rect x="535" y="88" width="1" height="14" fill="#000"/>
<rect x="534" y="97" width="3" height="2" fill="#000"/>
<rect x="535" y="97" width="1" height="2" fill="#f07c7c" fill-opacity="0.55"/>
<rect x="538" y="94" width="1" height="22" fill="#000"/>
<rect x="537" y="95" width="3" height="9" fill="#000"/>
<rect x="538" y="96" width="1" height="7" fill="#f07c7c"/>
<rect x="541" y="83" width="1" height="23" fill="#000"/>
<rect x="540" y="86" width="3" height="15" fill="#000"/>
<rect x="541" y="87" width="1" height="13" fill="#62e062"/>
<rect x="543" y="79" width="1" height="20" fill="#000"/>
<rect x="542" y="82" width="3" height="4" fill="#000"/>
<rect x="543" y="83" width="1" height="2" fill="#f07c7c"/>
<rect x="546" y="79" width="1" height="19" fill="#000"/>
<rect x="545" y="79" width="3" height="10" fill="#000"/>
<rect x="546" y="80" width="1" height="8" fill="#f07c7c"/>
<rect x="548" y="86" width="1" height="18" fill="#000"/>
<rect x="547" y="89" width="3" height="6" fill="#000"/>
<rect x="548" y="90" width="1" height="4" fill="#f07c7c"/>
<rect x="551" y="96" width="1" height="15" fill="#000"/>
<rect x="550" y="98" width="3" height="3" fill="#000"/>
<rect x="551" y="99" width="1" height="1" fill="#f07c7c"/>
<rect x="553" y="95" width="1" height="26" fill="#000"/>
<rect x="552" y="104" width="3" height="12" fill="#000"/>
<rect x="553" y="105" width="1" height="10" fill="#f07c7c"/>
<rect x="556" y="106" width="1" height="14" fill="#000"/>
<rect x="555" y="117" width="3" height="2" fill="#000"/>
<rect x="556" y="117" width="1" height="2" fill="#f07c7c" fill-opacity="0.55"/>
<rect x="558" y="112" width="1" height="26" fill="#000"/>
<rect x="557" y="120" width="3" height="17" fill="#000"/>
<rect x="558" y="121" width="1" height="15" fill="#f07c7c"/>
<rect x="561" y="124" width="1" height="17" fill="#000"/>
<rect x="560" y="124" width="3" height="10" fill="#000"/>
<rect x="561" y="125" width="1" height="8" fill="#62e062"/>
<rect x="563" y="118" width="1" height="12" fill="#000"/>
<rect x="562" y="122" width="3" height="4" fill="#000"/>
<rect x="563" y="123" width="1" height="2" fill="#62e062"/>
<rect x="566" y="118" width="1" height="13" fill="#000"/>
<rect x="565" y="125" width="3" height="2" fill="#000"/>
<rect x="569" y="130" width="1" height="9" fill="#000"/>
<rect x="568" y="131" width="3" height="6" fill="#000"/>
<rect x="569" y="132" width="1" height="4" fill="#f07c7c"/>
<rect x="571" y="139" width="1" height="24" fill="#000"/>
<rect x="570" y="139" width="3" height="23" fill="#000"/>
<rect x="571" y="140" width="1" height="21" fill="#f07c7c"/>
<rect x="574" y="162" width="1" height="27" fill="#000"/>
<rect x="573" y="165" width="3" height="17" fill="#000"/>
<rect x="574" y="166" width="1" height="15" fill="#f07c7c"/>
<rect x="576" y="159" width="1" height="25" fill="#000"/>
<rect x="575" y="172" width="3" height="6" fill="#000"/>
<rect x="576" y="173" width="1" height="4" fill="#62e062"/>
<rect x="579" y="166" width="1" height="20" fill="#000"/>
<rect x="578" y="172" width="3" height="11" fill="#000"/>
<rect x="579" y="173" width="1" height="9" fill="#f07c7c"/>
<rect x="581" y="147" width="1" height="32" fill="#000"/>
<rect x="580" y="159" width="3" height="19" fill="#000"/>
<rect x="581" y="160" width="1" height="17" fill="#62e062"/>
<rect x="584" y="149" width="1" height="15" fill="#000"/>
<rect x="583" y="154" width="3" height="2" fill="#000"/>
<rect x="584" y="154" width="1" height="2" fill="#f07c7c" fill-opacity="0.55"/>
<rect x="586" y="143" width="1" height="16" fill="#000"/>
<rect x="585" y="145" width="3" height="7" fill="#000"/>
<rect x="586" y="146" width="1" height="5" fill="#62e062"/>
<rect x="589" y="134" width="1" height="10" fill="#000"/>
<rect x="588" y="135" width="3" height="5" fill="#000"/>
<rect x="589" y="136" width="1" height="3" fill="#62e062"/>
<rect x="591" y="121" width="1" height="27" fill="#000"/>
<rect x="590" y="124" width="3" height="14" fill="#000"/>
<rect x="591" y="125" width="1" height="12" fill="#62e062"/>
<rect x="594" y="116" width="1" height="26" fill="#000"/>
<rect x="593" y="116" width="3" height="2" fill="#000"/>
<rect x="594" y="116" width="1" height="2" fill="#62e062" fill-opacity="0.55"/>
<rect x="597" y="108" width="1" height="18" fill="#000"/>
<rect x="596" y="117" width="3" height="4" fill="#000"/>
<rect x="597" y="118" width="1" height="2" fill="#f07c7c"/>
<rect x="599" y="98" width="1" height="21" fill="#000"/>
<rect x="598" y="110" width="3" height="8" fill="#000"/>
<rect x="599" y="111" width="1" height="6" fill="#62e062"/>
<rect x="602" y="102" width="1" height="29" fill="#000"/>
<rect x="601" y="116" width="3" height="15" fill="#000"/>
<rect x="602" y="117" width="1" height="13" fill="#f07c7c"/>
<rect x="604" y="125" width="1" height="17" fill="#000"/>
<rect x="603" y="129" width="3" height="7" fill="#000"/>
<rect x="604" y="130" width="1" height="5" fill="#f07c7c"/>
<rect x="607" y="101" width="1" height="32" fill="#000"/>
<rect x="606" y="116" width="3" height="4" fill="#000"/>
<rect x="607" y="117" width="1" height="2" fill="#62e062"/>
<rect x="609" y="111" width="1" height="23" fill="#000"/>
<rect x="608" y="119" width="3" height="6" fill="#000"/>
<rect x="609" y="120" width="1" height="4" fill="#f07c7c"/>
<rect x="612" y="109" width="1" height="25" fill="#000"/>
<rect x="611" y="124" width="3" height="2" fill="#000"/>
<rect x="614" y="117" width="1" height="19" fill="#000"/>
<rect x="613" y="121" width="3" height="9" fill="#000"/>
<rect x="614" y="122" width="1" height="7" fill="#62e062"/>
<rect x="617" y="88" width="1" height="29" fill="#000"/>
<rect x="616" y="93" width="3" height="18" fill="#000"/>
<rect x="617" y="94" width="1" height="16" fill="#62e062"/>
<rect x="619" y="87" width="1" height="19" fill="#000"/>
<rect x="618" y="96" width="3" height="6" fill="#000"/>
<rect x="619" y="97" width="1" height="4" fill="#f07c7c"/>
<rect x="622" y="77" width="1" height="27" fill="#000"/>
<rect x="621" y="78" width="3" height="25" fill="#000"/>
<rect x="622" y="79" width="1" height="23" fill="#62e062"/>
<rect x="625" y="65" width="1" height="18" fill="#000"/>
<rect x="624" y="66" width="3" height="6" fill="#000"/>
<rect x="625" y="67" width="1" height="4" fill="#62e062"/>
<rect x="627" y="60" width="1" height="14" fill="#000"/>
<rect x="626" y="68" width="3" height="2" fill="#000"/>
<rect x="627" y="68" width="1" height="2" fill="#62e062" fill-opacity="0.55"/>
<rect x="630" y="54" width="1" height="22" fill="#000"/>
<rect x="629" y="71" width="3" height="3" fill="#000"/>
<rect x="630" y="72" width="1" height="1" fill="#62e062"/>
<rect x="632" y="63" width="1" height="17" fill="#000"/>
<rect x="631" y="69" width="3" height="7" fill="#000"/>
<rect x="632" y="70" width="1" height="5" fill="#f07c7c"/>
<rect x="635" y="69" width="1" height="38" fill="#000"/>
<rect x="634" y="69" width="3" height="37" fill="#000"/>
<rect x="635" y="70" width="1" height="35" fill="#f07c7c"/>
<rect x="637" y="93" width="1" height="21" fill="#000"/>
<rect x="636" y="107" width="3" height="5" fill="#000"/>
<rect x="637" y="108" width="1" height="3" fill="#62e062"/>
<rect x="640" y="89" width="1" height="20" fill="#000"/>
<rect x="639" y="101" width="3" height="3" fill="#000"/>
<rect x="640" y="102" width="1" height="1" fill="#62e062"/>
<rect x="642" y="76" width="1" height="23" fill="#000"/>
<rect x="641" y="81" width="3" height="13" fill="#000"/>
<rect x="642" y="82" width="1" height="11" fill="#62e062"/>
<rect x="645" y="71" width="1" height="26" fill="#000"/>
<rect x="644" y="78" width="3" height="14" fill="#000"/>
<rect x="645" y="79" width="1" height="12" fill="#f07c7c"/>
<rect x="647" y="87" width="1" height="37" fill="#000"/>
<rect x="646" y="88" width="3" height="30" fill="#000"/>
<rect x="647" y="89" width="1" height="28" fill="#f07c7c"/>
<rect x="650" y="108" width="1" height="13" fill="#000"/>
<rect x="649" y="114" width="3" height="3" fill="#000"/>
<rect x="650" y="115" width="1" height="1" fill="#f07c7c"/>
<rect x="653" y="99" width="1" height="32" fill="#000"/>
<rect x="652" y="99" width="3" height="14" fill="#000"/>
<rect x="653" y="100" width="1" height="12" fill="#62e062"/>
<rect x="655" y="111" width="1" height="38" fill="#000"/>
<rect x="654" y="112" width="3" height="6" fill="#000"/>
<rect x="655" y="113" width="1" height="4" fill="#f07c7c"/>
<rect x="658" y="134" width="1" height="22" fill="#000"/>
<rect x="657" y="140" width="3" height="10" fill="#000"/>
<rect x="658" y="141" width="1" height="8" fill="#f07c7c"/>
<rect x="660" y="151" width="1" height="23" fill="#000"/>
<rect x="659" y="156" width="3" height="5" fill="#000"/>
<rect x="660" y="157" width="1" height="3" fill="#f07c7c"/>
<rect x="663" y="133" width="1" height="33" fill="#000"/>
<rect x="662" y="135" width="3" height="18" fill="#000"/>
<rect x="663" y="136" width="1" height="16" fill="#f07c7c"/>
<rect x="665" y="145" width="1" height="24" fill="#000"/>
<rect x="664" y="149" width="3" height="2" fill="#000"/>
<rect x="668" y="156" width="1" height="25" fill="#000"/>
<rect x="667" y="171" width="3" height="3" fill="#000"/>
<rect x="668" y="172" width="1" height="1" fill="#f07c7c"/>
<rect x="670" y="171" width="1" height="25" fill="#000"/>
<rect x="669" y="172" width="3" height="16" fill="#000"/>
<rect x="670" y="173" width="1" height="14" fill="#f07c7c"/>
<rect x="673" y="139" width="1" height="32" fill="#000"/>
<rect x="672" y="148" width="3" height="19" fill="#000"/>
<rect x="673" y="149" width="1" height="17" fill="#62e062"/>
<rect x="675" y="119" width="1" height="25" fill="#000"/>
<rect x="674" y="132" width="3" height="8" fill="#000"/>
<rect x="675" y="133" width="1" height="6" fill="#62e062"/>
<rect x="678" y="135" width="1" height="29" fill="#000"/>
<rect x="677" y="136" width="3" height="18" fill="#000"/>
<rect x="678" y="137" width="1" height="16" fill="#f07c7c"/>
<rect x="681" y="126" width="1" height="22" fill="#000"/>
<rect x="680" y="136" width="3" height="8" fill="#000"/>
<rect x="681" y="137" width="1" height="6" fill="#62e062"/>
<rect x="683" y="123" width="1" height="31" fill="#000"/>
<rect x="682" y="126" width="3" height="18" fill="#000"/>
<rect x="683" y="127" width="1" height="16" fill="#62e062"/>
<rect x="686" y="112" width="1" height="20" fill="#000"/>
<rect x="685" y="124" width="3" height="8" fill="#000"/>
<rect x="686" y="125" width="1" height="6" fill="#f07c7c"/>
<rect x="688" y="118" width="1" height="21" fill="#000"/>
<rect x="687" y="134" width="3" height="2" fill="#000"/>
<rect x="688" y="134" width="1" height="2" fill="#f07c7c" fill-opacity="0.55"/>
<rect x="691" y="110" width="1" height="26" fill="#000"/>
<rect x="690" y="116" width="3" height="20" fill="#000"/>
<rect x="691" y="117" width="1" height="18" fill="#62e062"/>
<rect x="693" y="103" width="1" height="17" fill="#000"/>
<rect x="692" y="106" width="3" height="5" fill="#000"/>
<rect x="693" y="107" width="1" height="3" fill="#62e062"/>
<rect x="696" y="92" width="1" height="13" fill="#000"/>
<rect x="695" y="94" width="3" height="4" fill="#000"/>
<rect x="696" y="95" width="1" height="2" fill="#62e062"/>
<rect x="698" y="80" width="1" height="21" fill="#000"/>
<rect x="697" y="84" width="3" height="6" fill="#000"/>
<rect x="698" y="85" width="1" height="4" fill="#62e062"/>
<rect x="701" y="79" width="1" height="22" fill="#000"/>
<rect x="700" y="83" width="3" height="13" fill="#000"/>
<rect x="701" y="84" width="1" height="11" fill="#f07c7c"/>
<rect x="704" y="59" width="1" height="43" fill="#000"/>
<rect x="703" y="63" width="3" height="38" fill="#000"/>
<rect x="704" y="64" width="1" height="36" fill="#62e062"/>
<rect x="706" y="47" width="1" height="17" fill="#000"/>
<rect x="705" y="49" width="3" height="14" fill="#000"/>
<rect x="706" y="50" width="1" height="12" fill="#62e062"/>
<rect x="709" y="47" width="1" height="39" fill="#000"/>
<rect x="708" y="49" width="3" height="36" fill="#000"/>
<rect x="709" y="50" width="1" height="34" fill="#f07c7c"/>
<rect x="711" y="64" width="1" height="23" fill="#000"/>
<rect x="710" y="72" width="3" height="9" fill="#000"/>
<rect x="711" y="73" width="1" height="7" fill="#f07c7c"/>
<rect x="714" y="61" width="1" height="30" fill="#000"/>
<rect x="713" y="71" width="3" height="16" fill="#000"/>
<rect x="714" y="72" width="1" height="14" fill="#f07c7c"/>
<rect x="716" y="54" width="1" height="37" fill="#000"/>
<rect x="715" y="70" width="3" height="11" fill="#000"/>
<rect x="716" y="71" width="1" height="9" fill="#62e062"/>
<rect x="719" y="109" width="1" height="40" fill="#000"/>
<rect x="718" y="120" width="3" height="27" fill="#000"/>
<rect x="719" y="121" width="1" height="25" fill="#f07c7c"/>
<rect x="721" y="147" width="1" height="18" fill="#000"/>
<rect x="720" y="150" width="3" height="9" fill="#000"/>
<rect x="721" y="151" width="1" height="7" fill="#f07c7c"/>
<rect x="724" y="162" width="1" height="19" fill="#000"/>
<rect x="723" y="163" width="3" height="7" fill="#000"/>
<rect x="724" y="164" width="1" height="5" fill="#f07c7c"/>
<rect x="726" y="172" width="1" height="18" fill="#000"/>
<rect x="725" y="173" width="3" height="15" fill="#000"/>
<rect x="726" y="174" width="1" height="13" fill="#f07c7c"/>
</g>
<rect x="490" y="43" width="244" height="3" fill="#ff0000" shape-rendering="crispEdges"/>
<line x1="90.2" y1="197.45" x2="734.3" y2="198.5" stroke="#008000" stroke-width="3"/>
<line x1="1" y1="445.4" x2="732.8" y2="446.4" stroke="#008000" stroke-width="3"/>
<g clip-path="url(#cv)">
<g shape-rendering="crispEdges">
<rect x="3" y="556" width="1" height="24" fill="#4ddc4d"/>
<rect x="6" y="563" width="1" height="17" fill="#4ddc4d"/>
<rect x="8" y="566" width="1" height="14" fill="#4ddc4d"/>
<rect x="11" y="570" width="1" height="10" fill="#4ddc4d"/>
<rect x="13" y="561" width="1" height="19" fill="#dc5c5c"/>
<rect x="16" y="570" width="1" height="10" fill="#4ddc4d"/>
<rect x="19" y="571" width="1" height="9" fill="#4ddc4d"/>
<rect x="21" y="564" width="1" height="16" fill="#dc5c5c"/>
<rect x="24" y="565" width="1" height="15" fill="#4ddc4d"/>
<rect x="26" y="564" width="1" height="16" fill="#dc5c5c"/>
<rect x="29" y="566" width="1" height="14" fill="#4ddc4d"/>
<rect x="31" y="568" width="1" height="12" fill="#dc5c5c"/>
<rect x="34" y="568" width="1" height="12" fill="#4ddc4d"/>
<rect x="36" y="564" width="1" height="16" fill="#dc5c5c"/>
<rect x="39" y="567" width="1" height="13" fill="#dc5c5c"/>
<rect x="41" y="568" width="1" height="12" fill="#dc5c5c"/>
<rect x="44" y="563" width="1" height="17" fill="#dc5c5c"/>
<rect x="47" y="564" width="1" height="16" fill="#4ddc4d"/>
<rect x="49" y="567" width="1" height="13" fill="#4ddc4d"/>
<rect x="52" y="567" width="1" height="13" fill="#4ddc4d"/>
<rect x="54" y="568" width="1" height="12" fill="#4ddc4d"/>
<rect x="57" y="569" width="1" height="11" fill="#4ddc4d"/>
<rect x="59" y="567" width="1" height="13" fill="#4ddc4d"/>
<rect x="62" y="566" width="1" height="14" fill="#dc5c5c"/>
<rect x="64" y="559" width="1" height="21" fill="#dc5c5c"/>
<rect x="67" y="560" width="1" height="20" fill="#dc5c5c"/>
<rect x="69" y="568" width="1" height="12" fill="#4ddc4d"/>
<rect x="72" y="572" width="1" height="8" fill="#dc5c5c"/>
<rect x="75" y="560" width="1" height="20" fill="#4ddc4d"/>
<rect x="77" y="553" width="1" height="27" fill="#dc5c5c"/>
<rect x="80" y="560" width="1" height="20" fill="#4ddc4d"/>
<rect x="82" y="557" width="1" height="23" fill="#4ddc4d"/>
<rect x="85" y="566" width="1" height="14" fill="#dc5c5c"/>
<rect x="87" y="560" width="1" height="20" fill="#dc5c5c"/>
<rect x="90" y="570" width="1" height="10" fill="#dc5c5c"/>
<rect x="92" y="564" width="1" height="16" fill="#dc5c5c"/>
<rect x="95" y="567" width="1" height="13" fill="#dc5c5c"/>
<rect x="97" y="568" width="1" height="12" fill="#dc5c5c"/>
<rect x="100" y="559" width="1" height="21" fill="#dc5c5c"/>
<rect x="103" y="566" width="1" height="14" fill="#dc5c5c"/>
<rect x="105" y="564" width="1" height="16" fill="#dc5c5c"/>
<rect x="108" y="558" width="1" height="22" fill="#dc5c5c"/>
<rect x="110" y="545" width="1" height="35" fill="#dc5c5c"/>
<rect x="113" y="559" width="1" height="21" fill="#dc5c5c"/>
<rect x="115" y="546" width="1" height="34" fill="#4ddc4d"/>
<rect x="118" y="565" width="1" height="15" fill="#4ddc4d"/>
<rect x="120" y="556" width="1" height="24" fill="#4ddc4d"/>
<rect x="123" y="558" width="1" height="22" fill="#4ddc4d"/>
<rect x="125" y="565" width="1" height="15" fill="#4ddc4d"/>
<rect x="128" y="569" width="1" height="11" fill="#4ddc4d"/>
<rect x="131" y="571" width="1" height="9" fill="#dc5c5c"/>
<rect x="133" y="567" width="1" height="13" fill="#4ddc4d"/>
<rect x="136" y="565" width="1" height="15" fill="#dc5c5c"/>
<rect x="138" y="568" width="1" height="12" fill="#dc5c5c"/>
<rect x="141" y="557" width="1" height="23" fill="#dc5c5c"/>
<rect x="143" y="556" width="1" height="24" fill="#dc5c5c"/>
<rect x="146" y="560" width="1" height="20" fill="#4ddc4d"/>
<rect x="148" y="549" width="1" height="31" fill="#4ddc4d"/>
<rect x="151" y="563" width="1" height="17" fill="#4ddc4d"/>
<rect x="153" y="566" width="1" height="14" fill="#dc5c5c"/>
<rect x="156" y="566" width="1" height="14" fill="#dc5c5c"/>
<rect x="159" y="572" width="1" height="8" fill="#dc5c5c"/>
<rect x="161" y="566" width="1" height="14" fill="#4ddc4d"/>
<rect x="164" y="556" width="1" height="24" fill="#dc5c5c"/>
<rect x="166" y="564" width="1" height="16" fill="#4ddc4d"/>
<rect x="169" y="563" width="1" height="17" fill="#dc5c5c"/>
<rect x="171" y="566" width="1" height="14" fill="#dc5c5c"/>
<rect x="174" y="563" width="1" height="17" fill="#4ddc4d"/>
<rect x="176" y="570" width="1" height="10" fill="#dc5c5c"/>
<rect x="179" y="564" width="1" height="16" fill="#dc5c5c"/>
<rect x="181" y="538" width="1" height="42" fill="#dc5c5c"/>
<rect x="184" y="563" width="1" height="17" fill="#4ddc4d"/>
<rect x="187" y="553" width="1" height="27" fill="#4ddc4d"/>
<rect x="189" y="560" width="1" height="20" fill="#4ddc4d"/>
<rect x="192" y="559" width="1" height="21" fill="#4ddc4d"/>
<rect x="194" y="562" width="1" height="18" fill="#dc5c5c"/>
<rect x="197" y="561" width="1" height="19" fill="#4ddc4d"/>
<rect x="199" y="561" width="1" height="19" fill="#dc5c5c"/>
<rect x="202" y="561" width="1" height="19" fill="#4ddc4d"/>
<rect x="204" y="563" width="1" height="17" fill="#4ddc4d"/>
<rect x="207" y="550" width="1" height="30" fill="#4ddc4d"/>
<rect x="210" y="561" width="1" height="19" fill="#4ddc4d"/>
<rect x="212" y="568" width="1" height="12" fill="#4ddc4d"/>
<rect x="215" y="565" width="1" height="15" fill="#4ddc4d"/>
<rect x="217" y="570" width="1" height="10" fill="#dc5c5c"/>
<rect x="220" y="572" width="1" height="8" fill="#4ddc4d"/>
<rect x="222" y="569" width="1" height="11" fill="#4ddc4d"/>
<rect x="225" y="568" width="1" height="12" fill="#4ddc4d"/>
<rect x="227" y="567" width="1" height="13" fill="#dc5c5c"/>
<rect x="230" y="569" width="1" height="11" fill="#dc5c5c"/>
<rect x="232" y="573" width="1" height="7" fill="#4ddc4d"/>
<rect x="235" y="574" width="1" height="6" fill="#4ddc4d"/>
<rect x="238" y="569" width="1" height="11" fill="#4ddc4d"/>
<rect x="240" y="568" width="1" height="12" fill="#4ddc4d"/>
<rect x="243" y="570" width="1" height="10" fill="#dc5c5c"/>
<rect x="245" y="569" width="1" height="11" fill="#4ddc4d"/>
<rect x="248" y="572" width="1" height="8" fill="#dc5c5c"/>
<rect x="250" y="573" width="1" height="7" fill="#4ddc4d"/>
<rect x="253" y="570" width="1" height="10" fill="#dc5c5c"/>
<rect x="255" y="573" width="1" height="7" fill="#4ddc4d"/>
<rect x="258" y="572" width="1" height="8" fill="#dc5c5c"/>
<rect x="260" y="565" width="1" height="15" fill="#dc5c5c"/>
<rect x="263" y="564" width="1" height="16" fill="#4ddc4d"/>
<rect x="266" y="565" width="1" height="15" fill="#dc5c5c"/>
<rect x="268" y="552" width="1" height="28" fill="#dc5c5c"/>
<rect x="271" y="567" width="1" height="13" fill="#4ddc4d"/>
<rect x="273" y="566" width="1" height="14" fill="#dc5c5c"/>
<rect x="276" y="560" width="1" height="20" fill="#dc5c5c"/>
<rect x="278" y="558" width="1" height="22" fill="#dc5c5c"/>
<rect x="281" y="552" width="1" height="28" fill="#dc5c5c"/>
<rect x="283" y="560" width="1" height="20" fill="#4ddc4d"/>
<rect x="286" y="565" width="1" height="15" fill="#dc5c5c"/>
<rect x="288" y="554" width="1" height="26" fill="#dc5c5c"/>
<rect x="291" y="550" width="1" height="30" fill="#dc5c5c"/>
<rect x="294" y="560" width="1" height="20" fill="#4ddc4d"/>
<rect x="296" y="554" width="1" height="26" fill="#4ddc4d"/>
<rect x="299" y="557" width="1" height="23" fill="#dc5c5c"/>
<rect x="301" y="546" width="1" height="34" fill="#dc5c5c"/>
<rect x="304" y="548" width="1" height="32" fill="#dc5c5c"/>
<rect x="306" y="553" width="1" height="27" fill="#dc5c5c"/>
<rect x="309" y="557" width="1" height="23" fill="#4ddc4d"/>
<rect x="311" y="528" width="1" height="52" fill="#4ddc4d"/>
<rect x="314" y="514" width="1" height="66" fill="#dc5c5c"/>
<rect x="316" y="522" width="1" height="58" fill="#4ddc4d"/>
<rect x="319" y="547" width="1" height="33" fill="#4ddc4d"/>
<rect x="322" y="561" width="1" height="19" fill="#dc5c5c"/>
<rect x="324" y="546" width="1" height="34" fill="#4ddc4d"/>
<rect x="327" y="559" width="1" height="21" fill="#4ddc4d"/>
<rect x="329" y="555" width="1" height="25" fill="#4ddc4d"/>
<rect x="332" y="564" width="1" height="16" fill="#4ddc4d"/>
<rect x="334" y="558" width="1" height="22" fill="#dc5c5c"/>
<rect x="337" y="558" width="1" height="22" fill="#4ddc4d"/>
<rect x="339" y="551" width="1" height="29" fill="#4ddc4d"/>
<rect x="342" y="558" width="1" height="22" fill="#4ddc4d"/>
<rect x="344" y="559" width="1" height="21" fill="#4ddc4d"/>
<rect x="347" y="559" width="1" height="21" fill="#4ddc4d"/>
<rect x="350" y="563" width="1" height="17" fill="#dc5c5c"/>
<rect x="352" y="562" width="1" height="18" fill="#4ddc4d"/>
<rect x="355" y="554" width="1" height="26" fill="#4ddc4d"/>
<rect x="357" y="555" width="1" height="25" fill="#4ddc4d"/>
<rect x="360" y="560" width="1" height="20" fill="#4ddc4d"/>
<rect x="362" y="565" width="1" height="15" fill="#4ddc4d"/>
<rect x="365" y="562" width="1" height="18" fill="#4ddc4d"/>
<rect x="367" y="554" width="1" height="26" fill="#4ddc4d"/>
<rect x="370" y="563" width="1" height="17" fill="#4ddc4d"/>
<rect x="372" y="567" width="1" height="13" fill="#4ddc4d"/>
<rect x="375" y="565" width="1" height="15" fill="#4ddc4d"/>
<rect x="378" y="555" width="1" height="25" fill="#dc5c5c"/>
<rect x="380" y="533" width="1" height="47" fill="#4ddc4d"/>
<rect x="383" y="548" width="1" height="32" fill="#dc5c5c"/>
<rect x="385" y="563" width="1" height="17" fill="#dc5c5c"/>
<rect x="388" y="565" width="1" height="15" fill="#4ddc4d"/>
<rect x="390" y="558" width="1" height="22" fill="#4ddc4d"/>
<rect x="393" y="567" width="1" height="13" fill="#4ddc4d"/>
<rect x="395" y="563" width="1" height="17" fill="#4ddc4d"/>
<rect x="398" y="562" width="1" height="18" fill="#4ddc4d"/>
<rect x="400" y="561" width="1" height="19" fill="#dc5c5c"/>
<rect x="403" y="564" width="1" height="16" fill="#4ddc4d"/>
<rect x="406" y="564" width="1" height="16" fill="#4ddc4d"/>
<rect x="408" y="561" width="1" height="19" fill="#4ddc4d"/>
<rect x="411" y="566" width="1" height="14" fill="#dc5c5c"/>
<rect x="413" y="565" width="1" height="15" fill="#dc5c5c"/>
<rect x="416" y="568" width="1" height="12" fill="#dc5c5c"/>
<rect x="418" y="563" width="1" height="17" fill="#dc5c5c"/>
<rect x="421" y="562" width="1" height="18" fill="#dc5c5c"/>
<rect x="423" y="551" width="1" height="29" fill="#dc5c5c"/>
<rect x="426" y="531" width="1" height="49" fill="#4ddc4d"/>
<rect x="428" y="547" width="1" height="33" fill="#dc5c5c"/>
<rect x="431" y="555" width="1" height="25" fill="#4ddc4d"/>
<rect x="434" y="553" width="1" height="27" fill="#dc5c5c"/>
<rect x="436" y="566" width="1" height="14" fill="#4ddc4d"/>
<rect x="439" y="566" width="1" height="14" fill="#4ddc4d"/>
<rect x="441" y="578" width="1" height="2" fill="#dc5c5c"/>
<rect x="444" y="565" width="1" height="15" fill="#4ddc4d"/>
<rect x="446" y="568" width="1" height="12" fill="#dc5c5c"/>
<rect x="449" y="578" width="1" height="2" fill="#4ddc4d"/>
<rect x="451" y="569" width="1" height="11" fill="#dc5c5c"/>
<rect x="454" y="538" width="1" height="42" fill="#4ddc4d"/>
<rect x="457" y="542" width="1" height="38" fill="#dc5c5c"/>
<rect x="459" y="561" width="1" height="19" fill="#dc5c5c"/>
<rect x="462" y="544" width="1" height="36" fill="#4ddc4d"/>
<rect x="464" y="546" width="1" height="34" fill="#4ddc4d"/>
<rect x="467" y="550" width="1" height="30" fill="#dc5c5c"/>
<rect x="469" y="551" width="1" height="29" fill="#dc5c5c"/>
<rect x="472" y="541" width="1" height="39" fill="#dc5c5c"/>
<rect x="474" y="547" width="1" height="33" fill="#4ddc4d"/>
<rect x="477" y="562" width="1" height="18" fill="#dc5c5c"/>
<rect x="479" y="565" width="1" height="15" fill="#4ddc4d"/>
<rect x="482" y="555" width="1" height="25" fill="#dc5c5c"/>
<rect x="485" y="548" width="1" height="32" fill="#4ddc4d"/>
<rect x="487" y="553" width="1" height="27" fill="#4ddc4d"/>
<rect x="490" y="557" width="1" height="23" fill="#dc5c5c"/>
<rect x="492" y="556" width="1" height="24" fill="#4ddc4d"/>
<rect x="495" y="551" width="1" height="29" fill="#dc5c5c"/>
<rect x="497" y="471" width="1" height="109" fill="#dc5c5c"/>
<rect x="500" y="524" width="1" height="56" fill="#dc5c5c"/>
<rect x="502" y="532" width="1" height="48" fill="#dc5c5c"/>
<rect x="505" y="551" width="1" height="29" fill="#4ddc4d"/>
<rect x="507" y="529" width="1" height="51" fill="#dc5c5c"/>
<rect x="510" y="536" width="1" height="44" fill="#4ddc4d"/>
<rect x="513" y="551" width="1" height="29" fill="#4ddc4d"/>
<rect x="515" y="535" width="1" height="45" fill="#4ddc4d"/>
<rect x="518" y="546" width="1" height="34" fill="#dc5c5c"/>
<rect x="520" y="532" width="1" height="48" fill="#4ddc4d"/>
<rect x="523" y="546" width="1" height="34" fill="#4ddc4d"/>
<rect x="525" y="519" width="1" height="61" fill="#4ddc4d"/>
<rect x="528" y="538" width="1" height="42" fill="#4ddc4d"/>
<rect x="530" y="556" width="1" height="24" fill="#dc5c5c"/>
<rect x="533" y="553" width="1" height="27" fill="#4ddc4d"/>
<rect x="535" y="551" width="1" height="29" fill="#4ddc4d"/>
<rect x="538" y="550" width="1" height="30" fill="#dc5c5c"/>
<rect x="541" y="548" width="1" height="32" fill="#4ddc4d"/>
<rect x="543" y="552" width="1" height="28" fill="#dc5c5c"/>
<rect x="546" y="558" width="1" height="22" fill="#dc5c5c"/>
<rect x="548" y="557" width="1" height="23" fill="#dc5c5c"/>
<rect x="551" y="558" width="1" height="22" fill="#dc5c5c"/>
<rect x="553" y="549" width="1" height="31" fill="#dc5c5c"/>
<rect x="556" y="557" width="1" height="23" fill="#dc5c5c"/>
<rect x="558" y="560" width="1" height="20" fill="#dc5c5c"/>
<rect x="561" y="557" width="1" height="23" fill="#4ddc4d"/>
<rect x="563" y="555" width="1" height="25" fill="#4ddc4d"/>
<rect x="566" y="559" width="1" height="21" fill="#dc5c5c"/>
<rect x="569" y="555" width="1" height="25" fill="#dc5c5c"/>
<rect x="571" y="551" width="1" height="29" fill="#dc5c5c"/>
<rect x="574" y="540" width="1" height="40" fill="#dc5c5c"/>
<rect x="576" y="554" width="1" height="26" fill="#4ddc4d"/>
<rect x="579" y="551" width="1" height="29" fill="#dc5c5c"/>
<rect x="581" y="544" width="1" height="36" fill="#4ddc4d"/>
<rect x="584" y="545" width="1" height="35" fill="#4ddc4d"/>
<rect x="586" y="550" width="1" height="30" fill="#4ddc4d"/>
<rect x="589" y="554" width="1" height="26" fill="#4ddc4d"/>
<rect x="591" y="538" width="1" height="42" fill="#4ddc4d"/>
<rect x="594" y="545" width="1" height="35" fill="#4ddc4d"/>
<rect x="597" y="555" width="1" height="25" fill="#dc5c5c"/>
<rect x="599" y="544" width="1" height="36" fill="#4ddc4d"/>
<rect x="602" y="541" width="1" height="39" fill="#dc5c5c"/>
<rect x="604" y="556" width="1" height="24" fill="#dc5c5c"/>
<rect x="607" y="552" width="1" height="28" fill="#4ddc4d"/>
<rect x="609" y="544" width="1" height="36" fill="#dc5c5c"/>
<rect x="612" y="559" width="1" height="21" fill="#4ddc4d"/>
<rect x="614" y="560" width="1" height="20" fill="#4ddc4d"/>
<rect x="617" y="554" width="1" height="26" fill="#4ddc4d"/>
<rect x="619" y="562" width="1" height="18" fill="#dc5c5c"/>
<rect x="622" y="561" width="1" height="19" fill="#4ddc4d"/>
<rect x="625" y="560" width="1" height="20" fill="#4ddc4d"/>
<rect x="627" y="563" width="1" height="17" fill="#dc5c5c"/>
<rect x="630" y="551" width="1" height="29" fill="#dc5c5c"/>
<rect x="632" y="547" width="1" height="33" fill="#dc5c5c"/>
<rect x="635" y="546" width="1" height="34" fill="#dc5c5c"/>
<rect x="637" y="547" width="1" height="33" fill="#dc5c5c"/>
<rect x="640" y="564" width="1" height="16" fill="#4ddc4d"/>
<rect x="642" y="555" width="1" height="25" fill="#4ddc4d"/>
<rect x="645" y="551" width="1" height="29" fill="#dc5c5c"/>
<rect x="647" y="555" width="1" height="25" fill="#dc5c5c"/>
<rect x="650" y="563" width="1" height="17" fill="#4ddc4d"/>
<rect x="653" y="558" width="1" height="22" fill="#4ddc4d"/>
<rect x="655" y="557" width="1" height="23" fill="#dc5c5c"/>
<rect x="658" y="563" width="1" height="17" fill="#dc5c5c"/>
<rect x="660" y="557" width="1" height="23" fill="#dc5c5c"/>
<rect x="663" y="567" width="1" height="13" fill="#4ddc4d"/>
<rect x="665" y="544" width="1" height="36" fill="#4ddc4d"/>
<rect x="668" y="556" width="1" height="24" fill="#dc5c5c"/>
<rect x="670" y="542" width="1" height="38" fill="#dc5c5c"/>
<rect x="673" y="549" width="1" height="31" fill="#4ddc4d"/>
<rect x="675" y="552" width="1" height="28" fill="#4ddc4d"/>
<rect x="678" y="554" width="1" height="26" fill="#dc5c5c"/>
<rect x="681" y="563" width="1" height="17" fill="#4ddc4d"/>
<rect x="683" y="566" width="1" height="14" fill="#4ddc4d"/>
<rect x="686" y="560" width="1" height="20" fill="#dc5c5c"/>
<rect x="688" y="563" width="1" height="17" fill="#dc5c5c"/>
<rect x="691" y="563" width="1" height="17" fill="#4ddc4d"/>
<rect x="693" y="564" width="1" height="16" fill="#4ddc4d"/>
<rect x="696" y="561" width="1" height="19" fill="#4ddc4d"/>
<rect x="698" y="564" width="1" height="16" fill="#4ddc4d"/>
<rect x="701" y="561" width="1" height="19" fill="#dc5c5c"/>
<rect x="704" y="556" width="1" height="24" fill="#4ddc4d"/>
<rect x="706" y="561" width="1" height="19" fill="#4ddc4d"/>
<rect x="709" y="558" width="1" height="22" fill="#dc5c5c"/>
<rect x="711" y="559" width="1" height="21" fill="#4ddc4d"/>
<rect x="714" y="559" width="1" height="21" fill="#4ddc4d"/>
<rect x="716" y="556" width="1" height="24" fill="#4ddc4d"/>
<rect x="719" y="534" width="1" height="46" fill="#dc5c5c"/>
<rect x="721" y="556" width="1" height="24" fill="#dc5c5c"/>
<rect x="724" y="559" width="1" height="21" fill="#dc5c5c"/>
<rect x="726" y="575" width="1" height="5" fill="#dc5c5c"/>
</g>
<polyline points="0.0,562.5 12.5,563.1 25.0,563.8 37.5,564.0 50.0,566.2 62.5,566.5 75.0,566.2 81.2,565.0 95.0,564.4 96.8,564.4 105.5,564.0 112.5,561.9 121.2,560.9 130.0,561.9 138.8,562.6 147.5,560.5 156.2,560.9 165.0,563.1 173.8,564.4 182.5,562.6 191.2,561.4 200.0,561.9 208.8,560.9 217.5,561.4 231.5,562.2 235.2,564.9 242.2,566.6 251.0,568.4 259.8,570.1 266.8,569.6 273.8,568.4 282.5,566.1 291.2,564.9 300.0,561.9 307.0,558.4 312.2,555.2 317.5,551.4 326.2,550.4 338.5,549.6 349.0,550.9 359.5,551.4 365.6,555.6 366.8,557.0 373.8,559.6 382.5,557.4 391.2,559.1 400.0,559.6 408.8,560.5 417.5,561.4 424.5,559.6 429.8,559.1 438.5,560.5 449.0,561.9 456.0,560.9 463.0,557.9 470.0,555.6 477.0,556.1 484.0,557.4 491.0,556.1 494.5,554.4 495.0,552.0 500.0,546.0 506.0,545.0 512.0,543.0 520.0,542.6 528.0,540.0 536.0,539.4 544.4,539.6 547.0,540.4 549.2,544.6 553.6,546.2 559.6,548.8 570.0,550.6 576.0,553.0 586.0,553.0 594.0,552.0 602.0,551.0 610.0,550.0 618.0,550.4 620.0,550.6 628.0,552.0 638.0,552.4 646.0,554.0 654.0,556.0 662.0,557.0 670.0,556.0 678.0,554.6 686.0,556.6 696.0,558.2 706.0,558.0 716.0,559.0 726.4,559.6" fill="none" stroke="#db525d" stroke-width="1.1" stroke-dasharray="4.5 3.5"/>
</g>
<g shape-rendering="crispEdges">
<rect x="0" y="0" width="1" height="600" fill="#8c9ea8"/>
<rect x="799" y="0" width="1" height="600" fill="#8c9ea8"/>
<rect x="0" y="599" width="800" height="1" fill="#8c9ea8"/>
<rect x="742" y="21" width="1" height="442" fill="#8c9ea8"/>
<rect x="0" y="462" width="743" height="1" fill="#8c9ea8"/>
<rect x="0" y="465" width="743" height="1" fill="#8c9ea8"/>
<rect x="742" y="465" width="1" height="116" fill="#8c9ea8"/>
<rect x="0" y="580" width="743" height="1" fill="#8c9ea8"/>
<rect x="743" y="446" width="4" height="1" fill="#8c9ea8"/>
<rect x="743" y="420" width="4" height="1" fill="#8c9ea8"/>
<rect x="743" y="394" width="4" height="1" fill="#8c9ea8"/>
<rect x="743" y="369" width="4" height="1" fill="#8c9ea8"/>
<rect x="743" y="345" width="4" height="1" fill="#8c9ea8"/>
<rect x="743" y="320" width="4" height="1" fill="#8c9ea8"/>
<rect x="743" y="297" width="4" height="1" fill="#8c9ea8"/>
<rect x="743" y="273" width="4" height="1" fill="#8c9ea8"/>
<rect x="743" y="250" width="4" height="1" fill="#8c9ea8"/>
<rect x="743" y="227" width="4" height="1" fill="#8c9ea8"/>
<rect x="743" y="205" width="4" height="1" fill="#8c9ea8"/>
<rect x="743" y="162" width="4" height="1" fill="#8c9ea8"/>
<rect x="743" y="140" width="4" height="1" fill="#8c9ea8"/>
<rect x="743" y="119" width="4" height="1" fill="#8c9ea8"/>
<rect x="743" y="99" width="4" height="1" fill="#8c9ea8"/>
<rect x="743" y="78" width="4" height="1" fill="#8c9ea8"/>
<rect x="743" y="58" width="4" height="1" fill="#8c9ea8"/>
<rect x="743" y="38" width="4" height="1" fill="#8c9ea8"/>
<rect x="743" y="564" width="4" height="1" fill="#8c9ea8"/>
<rect x="743" y="548" width="4" height="1" fill="#8c9ea8"/>
<rect x="743" y="532" width="4" height="1" fill="#8c9ea8"/>
<rect x="743" y="517" width="4" height="1" fill="#8c9ea8"/>
<rect x="743" y="501" width="4" height="1" fill="#8c9ea8"/>
<rect x="743" y="485" width="4" height="1" fill="#8c9ea8"/>
<rect x="743" y="469" width="4" height="1" fill="#8c9ea8"/>
<rect x="19" y="581" width="1" height="4" fill="#8c9ea8"/>
<rect x="69" y="581" width="1" height="4" fill="#8c9ea8"/>
<rect x="123" y="581" width="1" height="4" fill="#8c9ea8"/>
<rect x="182" y="581" width="1" height="4" fill="#8c9ea8"/>
<rect x="232" y="581" width="1" height="4" fill="#8c9ea8"/>
<rect x="288" y="581" width="1" height="4" fill="#8c9ea8"/>
<rect x="347" y="581" width="1" height="4" fill="#8c9ea8"/>
<rect x="398" y="581" width="1" height="4" fill="#8c9ea8"/>
<rect x="451" y="581" width="1" height="4" fill="#8c9ea8"/>
<rect x="504" y="581" width="1" height="4" fill="#8c9ea8"/>
<rect x="556" y="581" width="1" height="4" fill="#8c9ea8"/>
<rect x="612" y="581" width="1" height="4" fill="#8c9ea8"/>
<rect x="663" y="581" width="1" height="4" fill="#8c9ea8"/>
<rect x="711" y="581" width="1" height="4" fill="#8c9ea8"/>
</g>
<text x="749" y="450.0" font-size="10.8" letter-spacing="-0.1">2,700</text>
<text x="749" y="424.0" font-size="10.8" letter-spacing="-0.1">2,750</text>
<text x="749" y="398.0" font-size="10.8" letter-spacing="-0.1">2,800</text>
<text x="749" y="373.0" font-size="10.8" letter-spacing="-0.1">2,850</text>
<text x="749" y="349.0" font-size="10.8" letter-spacing="-0.1">2,900</text>
<text x="749" y="324.0" font-size="10.8" letter-spacing="-0.1">2,950</text>
<text x="749" y="301.7" font-weight="bold" font-size="12" letter-spacing="-0.1">3,000</text>
<text x="749" y="277.0" font-size="10.8" letter-spacing="-0.1">3,050</text>
<text x="749" y="254.0" font-size="10.8" letter-spacing="-0.1">3,100</text>
<text x="749" y="231.0" font-size="10.8" letter-spacing="-0.1">3,150</text>
<text x="749" y="209.0" font-size="10.8" letter-spacing="-0.1">3,200</text>
<text x="749" y="166.0" font-size="10.8" letter-spacing="-0.1">3,300</text>
<text x="749" y="144.0" font-size="10.8" letter-spacing="-0.1">3,350</text>
<text x="749" y="123.0" font-size="10.8" letter-spacing="-0.1">3,400</text>
<text x="749" y="103.0" font-size="10.8" letter-spacing="-0.1">3,450</text>
<text x="749" y="82.7" font-weight="bold" font-size="12" letter-spacing="-0.1">3,500</text>
<text x="749" y="62.0" font-size="10.8" letter-spacing="-0.1">3,550</text>
<text x="749" y="42.0" font-size="10.8" letter-spacing="-0.1">3,600</text>
<text x="749" y="552.3">1,000K</text>
<text x="749" y="536.5">1,500K</text>
<text x="749" y="520.6">2,000K</text>
<text x="749" y="504.8">2,500K</text>
<text x="749" y="488.9">3,000K</text>
<text x="749" y="476.1">3,500K</text>
<text x="19" y="596" text-anchor="middle">May</text>
<text x="69.3" y="596" text-anchor="middle">Jun</text>
<text x="123.3" y="596" text-anchor="middle">Jul</text>
<text x="182.3" y="596" text-anchor="middle">Aug</text>
<text x="232.3" y="596" text-anchor="middle">Sep</text>
<text x="288.7" y="596" text-anchor="middle">Oct</text>
<text x="347.6" y="596" text-anchor="middle">Nov</text>
<text x="398" y="596" text-anchor="middle">Dec</text>
<text x="451" y="596" text-anchor="middle" font-weight="bold" font-size="12">2015</text>
<text x="504.7" y="596" text-anchor="middle">Feb</text>
<text x="556.3" y="596" text-anchor="middle">Mar</text>
<text x="612.3" y="596" text-anchor="middle">Apr</text>
<text x="663" y="596" text-anchor="middle">May</text>
<text x="711.3" y="596" text-anchor="middle">Jun</text>
<rect x="747.5" y="167.5" width="38" height="13" fill="#fff" stroke="#8c9ea8"/>
<text x="749" y="178.5" fill="#2fa564">3,269.5</text>
<rect x="747.5" y="180.5" width="44" height="15" fill="url(#yl)" stroke="#8c9ea8"/>
<text x="749" y="191.9" fill="#000" letter-spacing="-0.1">3,239.00</text>
<rect x="747.5" y="552.5" width="41" height="11" fill="url(#wb)" stroke="#8c9ea8"/>
<text x="749" y="563.5" fill="#de6464" clip-path="url(#cb1)">639,742</text>
<rect x="747.5" y="562.5" width="41" height="15" fill="url(#wb)" stroke="#8c9ea8"/>
<text x="749" y="574.5" fill="#de6464">169,737</text>
<g shape-rendering="crispEdges">
<rect x="6" y="8" width="1" height="11" fill="#c03030"/>
<rect x="3" y="10" width="7" height="7" fill="#c82828"/><rect x="4" y="11" width="5" height="5" fill="#f07878"/>
<rect x="14" y="3" width="1" height="16" fill="#109010"/>
<rect x="11" y="6" width="7" height="10" fill="#10a010"/><rect x="12" y="7" width="5" height="8" fill="#60e060"/>
</g>
<text x="22.65" y="14.6" font-weight="bold" fill="#000008" letter-spacing="0.63">JMAT</text>
<text x="56.53" y="14.6" font-weight="bold" fill="#000008" letter-spacing="0">-</text>
<text x="63.3" y="14.6" font-weight="bold" fill="#000008" letter-spacing="0.295">Johnson</text>
<text x="114.22" y="14.6" font-weight="bold" fill="#000008" letter-spacing="0.404">Matthey</text>
<text x="162.07" y="14.6" font-weight="bold" fill="#000008" letter-spacing="-0.334">PLC</text>
<text x="187.14" y="14.6" font-weight="bold" fill="#000008" letter-spacing="0.467">(-)</text>
<text x="210.9" y="14.6" font-weight="bold" fill="#000008" letter-spacing="-0.122">3,239.00</text>
<text x="255.64" y="14.6" font-weight="bold" fill="#000008" letter-spacing="0.116">(-1.25%)</text>
<text x="309.12" y="14.6" font-weight="bold" fill="#000008" letter-spacing="-0.241">Daily</text>
<text x="340.65" y="14.6" font-weight="bold" fill="#000008" letter-spacing="0.022">Jun</text>
<text x="363.4" y="14.6" font-weight="bold" fill="#000008" letter-spacing="0.5">09</text>
<text x="379.18" y="14.6" font-weight="bold" fill="#000008" letter-spacing="-0.239">2015</text>
<text x="405.72" y="14.6" font-weight="bold" fill="#000008" letter-spacing="-0.315">11:04</text>
<text x="712.71" y="14.6" font-weight="bold" fill="#000008" letter-spacing="0.315">IT-Finance.com</text>
<g shape-rendering="crispEdges">
<rect x="1" y="21" width="174" height="13" fill="url(#tab)"/>
<rect x="1" y="34" width="175" height="1" fill="#8c9ea8"/>
<rect x="175" y="21" width="1" height="14" fill="#8c9ea8"/>
<rect x="29" y="21" width="1" height="13" fill="#a9b8c1"/><rect x="30" y="21" width="1" height="13" fill="#eef4f7"/>
</g>
<text x="2.66" y="31" fill="#101030" letter-spacing="-0.2">Price</text>
<text x="31.64" y="31" fill="#22a052" letter-spacing="-0.215">Moving</text>
<text x="69.18" y="31" fill="#22a052" letter-spacing="-0.05">average</text>
<text x="111.2" y="31" fill="#22a052" letter-spacing="-0.37">(Simple</text>
<text x="149.4" y="31" fill="#22a052" letter-spacing="0.343">200)</text>
<text x="2.6" y="460" fill="#000">©</text><text x="13.25" y="460" fill="#000" letter-spacing="-0.07">IT-Finance.com</text>
<g shape-rendering="crispEdges">
<rect x="1" y="466" width="180" height="13" fill="url(#tab)"/>
<rect x="1" y="479" width="181" height="1" fill="#8c9ea8"/>
<rect x="181" y="466" width="1" height="14" fill="#8c9ea8"/>
<rect x="41" y="466" width="1" height="13" fill="#a9b8c1"/><rect x="42" y="466" width="1" height="13" fill="#eef4f7"/>
</g>
<text x="3.15" y="476" fill="#de6464" letter-spacing="-0.19">Volume</text>
<text x="43.89" y="476" fill="#de6464" letter-spacing="-0.215">Moving</text>
<text x="81.13" y="476" fill="#de6464" letter-spacing="-0.05">average</text>
<text x="123.45" y="476" fill="#de6464" letter-spacing="-0.42">(Simple</text>
<text x="161.2" y="476" fill="#de6464" letter-spacing="0.589">20)</text>
</svg>
</body></html>
